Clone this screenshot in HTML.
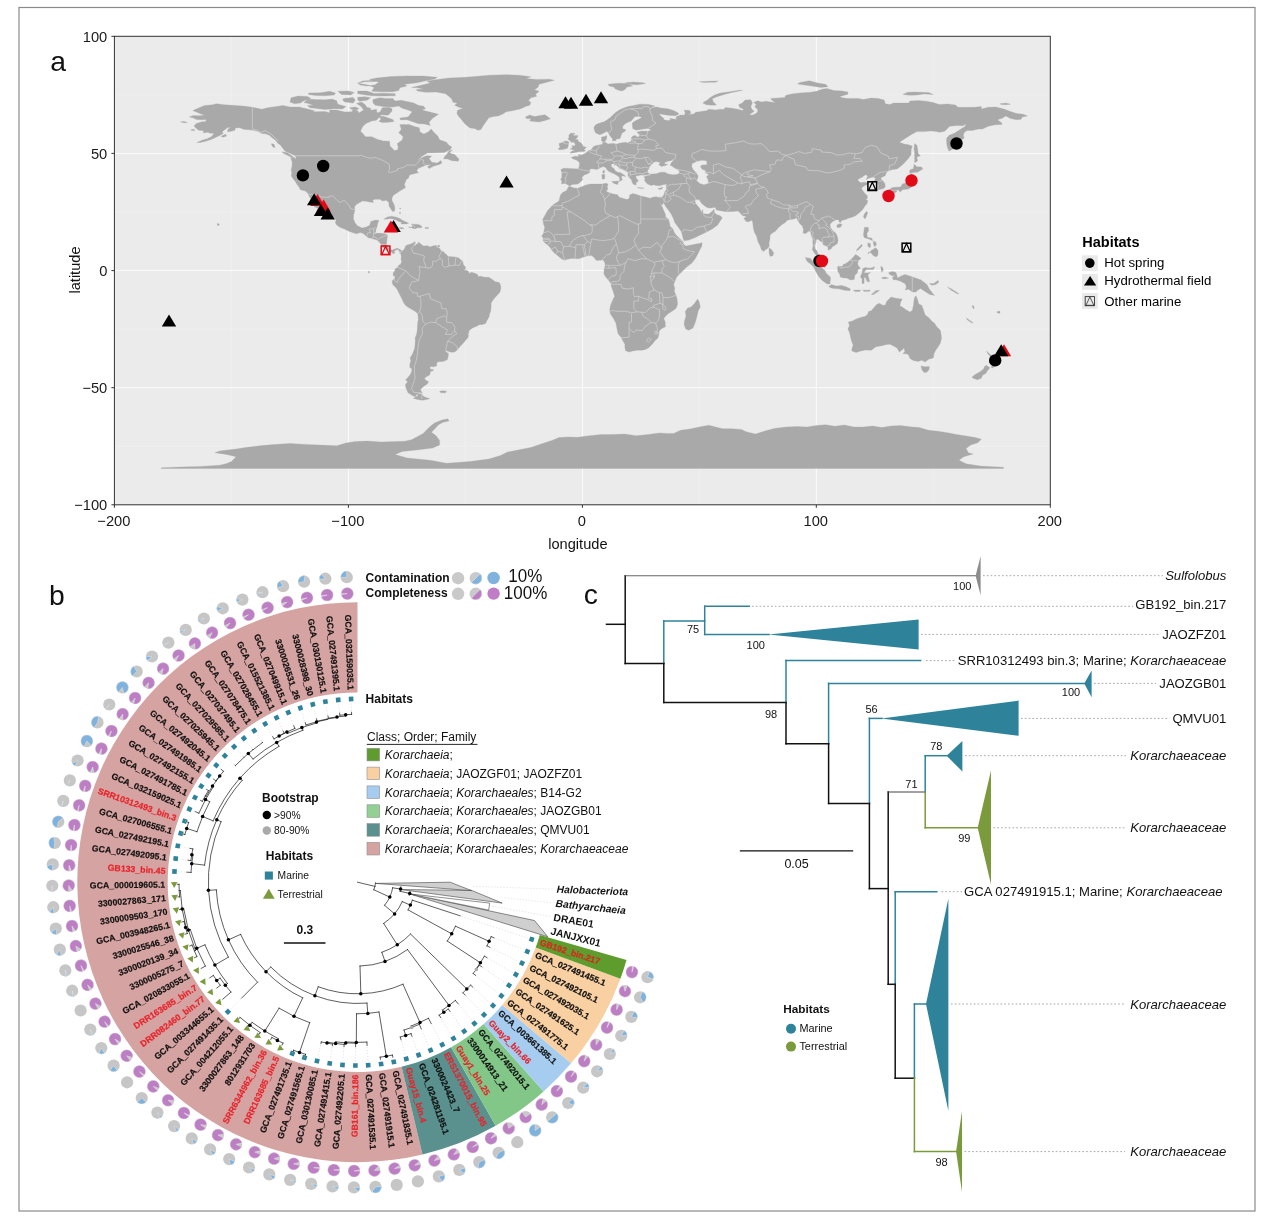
<!DOCTYPE html>
<html lang="en"><head><meta charset="utf-8"><title>Figure</title>
<style>html,body{margin:0;padding:0;background:#fff}svg{display:block}text{white-space:pre}</style></head>
<body>
<svg width="1269" height="1225" viewBox="0 0 1269 1225" font-family='"Liberation Sans", Arial, Helvetica, sans-serif'>
<rect x="0" y="0" width="1269" height="1225" fill="#fff"/>
<rect x="19" y="7.5" width="1236" height="1203.5" fill="none" stroke="#8a8a8a" stroke-width="1.2"/>
<g id="panelA">
<rect x="114.4" y="36.3" width="935.9" height="468.5" fill="#ebebeb"/>
<line x1="231.4" y1="36.3" x2="231.4" y2="504.8" stroke="#f3f3f3" stroke-width="0.5"/>
<line x1="465.4" y1="36.3" x2="465.4" y2="504.8" stroke="#f3f3f3" stroke-width="0.5"/>
<line x1="699.3" y1="36.3" x2="699.3" y2="504.8" stroke="#f3f3f3" stroke-width="0.5"/>
<line x1="933.3" y1="36.3" x2="933.3" y2="504.8" stroke="#f3f3f3" stroke-width="0.5"/>
<line x1="114.4" y1="446.2" x2="1050.3" y2="446.2" stroke="#f3f3f3" stroke-width="0.5"/>
<line x1="114.4" y1="329.1" x2="1050.3" y2="329.1" stroke="#f3f3f3" stroke-width="0.5"/>
<line x1="114.4" y1="212.0" x2="1050.3" y2="212.0" stroke="#f3f3f3" stroke-width="0.5"/>
<line x1="114.4" y1="94.9" x2="1050.3" y2="94.9" stroke="#f3f3f3" stroke-width="0.5"/>
<line x1="348.4" y1="36.3" x2="348.4" y2="504.8" stroke="#ffffff" stroke-width="0.85"/>
<line x1="582.4" y1="36.3" x2="582.4" y2="504.8" stroke="#ffffff" stroke-width="0.85"/>
<line x1="816.3" y1="36.3" x2="816.3" y2="504.8" stroke="#ffffff" stroke-width="0.85"/>
<line x1="114.4" y1="387.7" x2="1050.3" y2="387.7" stroke="#ffffff" stroke-width="0.85"/>
<line x1="114.4" y1="270.6" x2="1050.3" y2="270.6" stroke="#ffffff" stroke-width="0.85"/>
<line x1="114.4" y1="153.4" x2="1050.3" y2="153.4" stroke="#ffffff" stroke-width="0.85"/>
<path d="M189.3,116.9 193.2,115.5 199.1,115.7 204.5,115.2 199.8,113.6 192.8,110.6 199.8,107.5 204.5,105.6 212.7,104.7 216.2,103.8 224.4,104.7 236.1,105.6 245.4,106.3 252.4,107.3 261.8,109.2 267.7,107.7 278.2,106.3 282.9,105.4 289.9,107.0 299.2,107.0 308.6,109.2 314.4,110.8 313.3,111.7 325.0,111.5 329.7,112.7 329.7,109.9 336.7,110.1 344.9,112.0 351.9,111.7 353.1,109.6 357.7,110.8 358.9,112.9 363.6,109.9 361.2,106.6 356.6,103.5 361.2,101.9 364.8,104.2 367.1,107.5 370.6,108.0 370.6,110.3 376.5,109.2 376.9,112.7 380.0,112.0 382.3,107.7 389.3,107.3 392.1,108.7 391.9,111.3 388.2,115.2 381.6,114.8 378.8,117.6 376.5,120.2 371.8,120.9 365.9,123.4 362.4,127.0 360.5,131.2 362.4,133.0 365.5,136.8 371.8,136.8 377.6,139.4 383.5,141.0 389.6,141.2 390.0,145.9 392.4,148.3 394.2,150.4 397.5,149.9 398.2,147.3 397.3,143.6 402.2,140.1 403.1,136.6 398.7,132.8 401.3,129.3 399.8,124.6 409.2,124.6 414.4,126.5 419.3,127.7 420.0,131.9 423.9,134.0 428.2,131.9 431.2,129.1 433.8,132.3 437.8,136.1 439.6,139.8 446.6,142.2 448.3,144.8 451.8,147.1 450.2,149.7 444.3,152.5 437.3,152.7 427.2,153.0 422.1,156.2 417.4,160.0 415.8,160.9 420.2,158.6 426.3,155.8 431.7,156.0 429.1,158.6 430.7,160.7 431.9,162.3 437.3,163.0 440.8,160.5 442.0,163.0 438.9,164.7 433.8,166.1 429.1,168.4 427.5,166.8 430.7,164.4 426.1,164.9 422.1,166.8 418.1,168.4 416.7,170.8 418.6,172.6 415.1,173.6 410.1,174.7 409.0,175.9 408.7,178.0 406.4,179.4 404.8,183.4 404.3,184.3 405.5,187.6 402.7,189.3 399.8,191.1 396.8,193.0 393.1,195.6 391.9,198.4 392.1,200.7 394.0,204.5 394.9,207.8 394.5,211.3 392.6,211.5 391.0,209.2 388.9,205.7 388.9,202.6 386.3,200.3 382.5,201.0 380.0,199.3 375.3,199.3 372.7,200.0 373.4,202.4 369.4,201.9 365.9,201.2 362.4,201.0 359.8,202.4 355.9,204.7 354.5,207.3 354.9,210.1 353.5,215.5 353.5,219.0 354.9,222.5 357.3,225.8 360.1,227.0 361.9,227.9 366.4,227.0 369.7,225.3 370.8,221.4 375.8,220.0 379.0,220.4 377.6,223.7 376.9,227.4 375.8,229.3 375.8,231.9 374.3,233.3 377.2,233.3 381.1,233.3 385.8,234.0 387.7,235.4 387.0,238.9 386.7,242.4 386.3,244.8 387.9,247.1 390.0,249.2 392.4,249.9 395.2,248.8 397.5,248.3 400.1,249.5 401.5,250.4 401.3,252.0 399.1,251.6 398.9,249.7 396.3,249.7 394.2,251.3 394.9,253.0 393.3,253.7 391.4,252.3 388.6,251.3 386.7,250.4 384.2,247.8 381.8,247.1 381.6,244.8 379.5,242.4 377.4,240.3 375.3,239.6 371.8,238.5 368.3,237.8 366.4,236.3 362.9,233.3 360.1,232.6 356.6,233.8 353.1,232.8 348.8,231.2 344.4,228.9 340.2,227.4 336.7,224.9 335.3,222.8 336.0,220.2 334.3,217.4 330.8,213.6 327.8,211.1 326.4,208.2 323.8,206.1 321.5,204.0 318.7,201.0 317.7,197.7 314.2,196.3 313.7,198.9 316.6,202.6 318.4,205.4 320.8,208.5 322.9,212.5 325.4,214.8 326.1,216.4 324.3,216.4 321.2,213.4 319.6,210.8 317.5,208.2 314.0,206.6 315.2,204.0 312.6,201.4 310.9,198.9 309.1,196.1 307.9,193.2 305.3,191.1 300.4,189.7 299.2,187.2 296.9,184.3 295.5,181.8 292.7,178.3 291.3,175.9 291.8,172.4 291.1,170.1 292.0,166.3 292.2,162.1 290.6,157.4 294.6,157.6 295.7,159.5 296.0,156.9 294.3,155.3 290.3,153.4 285.2,151.3 283.1,148.7 280.5,145.2 277.5,143.1 275.8,140.5 272.8,138.2 269.3,135.2 265.3,133.7 261.8,133.5 258.3,131.6 254.8,130.5 248.9,129.8 244.3,129.5 239.6,127.7 235.4,128.1 234.9,130.2 230.2,131.6 227.2,131.6 228.3,128.8 231.4,127.2 227.4,127.7 224.4,130.0 222.0,131.9 223.4,133.3 219.7,135.6 215.0,137.7 211.0,139.6 205.7,141.2 200.3,142.4 196.8,142.6 202.1,140.3 207.3,138.7 211.7,136.6 214.1,133.3 210.8,133.3 207.1,132.3 203.3,133.0 203.8,130.7 198.6,130.2 195.8,127.9 194.0,125.8 196.3,123.4 202.1,121.8 206.1,121.6 205.7,119.5 201.4,119.7 196.3,119.5 192.8,117.8ZM401.5,250.4 402.7,250.9 404.5,248.8 405.7,245.7 407.8,244.8 410.8,244.1 413.4,242.7 415.1,241.5 415.3,243.4 414.1,245.0 415.1,245.7 416.2,244.3 418.1,243.6 418.6,242.0 420.2,243.6 422.5,245.3 423.7,246.0 427.5,245.7 430.3,246.9 432.1,246.0 435.4,245.5 437.3,245.7 435.9,246.9 438.2,247.6 440.1,248.8 440.6,250.6 443.1,251.6 445.5,253.7 447.8,256.0 449.0,256.5 451.8,256.7 455.5,257.0 458.3,257.7 460.9,259.8 462.6,261.2 463.5,264.9 465.4,266.8 465.4,268.9 463.7,270.3 466.5,270.3 468.2,271.3 469.3,273.4 471.2,272.2 474.3,273.1 477.5,274.5 478.2,276.6 480.8,276.2 484.5,277.3 488.8,277.3 492.3,279.5 495.3,281.8 499.3,282.5 500.5,285.1 500.9,288.1 500.0,292.1 497.4,295.1 495.1,297.5 492.7,300.5 491.1,302.9 491.1,306.9 490.6,311.5 489.5,313.9 489.0,316.9 486.7,320.9 485.7,323.3 482.9,324.4 479.4,324.7 476.1,326.5 472.6,327.9 469.3,330.3 468.4,333.8 468.2,337.3 465.4,340.4 463.0,343.6 460.2,346.2 457.4,349.7 454.8,352.1 451.3,352.3 447.1,351.1 445.7,350.2 445.7,351.8 448.5,353.5 448.3,355.8 447.3,359.8 443.1,361.4 437.8,361.7 436.6,363.8 436.6,366.1 433.1,366.8 430.0,366.4 430.3,369.2 433.1,369.4 433.3,370.8 430.7,371.3 429.6,375.0 426.8,376.4 424.4,378.3 426.1,380.4 428.4,381.4 427.5,383.7 424.2,386.0 421.8,387.9 420.4,389.8 421.4,391.4 422.3,393.1 419.7,393.1 416.7,394.2 415.8,396.6 413.0,395.9 410.4,394.2 408.0,392.8 406.9,390.0 405.7,387.2 405.5,384.2 407.8,381.8 405.5,379.9 407.6,377.8 410.1,374.8 411.5,372.0 412.0,368.9 409.7,367.3 409.9,364.0 410.8,360.7 410.1,357.7 412.0,354.9 413.4,351.8 414.6,348.6 415.1,344.3 415.3,340.8 415.1,338.0 416.5,334.5 417.2,330.8 417.4,326.8 417.6,323.3 418.3,319.7 418.1,316.2 417.6,313.4 415.3,311.5 412.3,309.7 408.5,307.6 405.7,305.5 403.8,303.1 402.2,299.6 400.6,296.3 398.9,293.0 397.5,290.0 395.6,287.2 393.3,285.3 392.4,283.4 392.1,280.9 394.2,278.7 395.4,276.6 393.3,275.9 393.1,273.1 394.7,271.0 395.2,268.7 397.7,267.5 398.4,265.4 400.3,264.5 401.7,261.9 401.0,259.3 401.3,257.0 401.0,254.4 399.4,253.0 401.3,252.0ZM421.8,393.8 417.4,394.2 417.9,396.1 415.5,397.0 413.4,398.2 417.4,399.4 422.1,400.3 426.8,399.6 429.8,398.7 426.8,397.7 423.7,396.6 422.5,395.2ZM411.5,87.4 422.1,85.0 430.3,82.9 426.8,81.0 437.3,79.4 449.0,78.0 465.4,77.3 474.7,76.6 488.8,75.2 505.1,74.7 519.2,75.2 530.9,76.8 526.2,78.5 536.7,79.4 549.6,79.2 554.3,80.3 544.9,82.7 539.1,84.3 537.9,87.4 534.4,89.7 539.1,91.3 535.6,94.2 536.7,96.3 530.9,97.7 528.5,100.5 530.9,102.4 529.7,105.2 526.2,106.3 520.3,108.9 513.3,110.6 506.3,111.7 502.8,114.1 498.1,115.9 493.4,116.6 488.8,117.8 486.9,120.4 484.8,123.4 482.7,126.5 481.0,129.5 478.0,130.2 474.7,128.6 470.0,127.9 466.5,125.3 463.7,122.5 461.6,119.7 458.8,116.6 456.9,113.6 457.6,110.3 463.0,108.2 459.5,107.5 454.6,105.2 457.2,103.3 452.7,102.1 452.0,99.3 449.0,96.5 445.5,93.7 436.1,92.1 425.6,92.3 417.4,91.1 416.2,89.5 423.2,89.0 417.4,87.8ZM438.5,114.3 432.6,118.3 429.1,122.3 430.3,125.5 424.4,123.9 418.6,123.7 412.7,121.8 406.9,119.7 400.6,119.9 399.8,118.1 408.0,116.9 410.4,114.1 412.3,111.7 408.0,110.1 402.2,108.2 398.7,106.1 392.8,107.0 384.6,106.8 380.0,106.1 375.3,105.2 372.9,102.8 372.9,99.5 380.0,97.7 385.8,98.4 392.8,98.4 395.2,101.0 401.0,100.3 406.9,101.4 413.9,103.1 418.6,105.4 423.2,106.1 425.6,108.4 422.1,110.1 426.8,111.3 433.8,113.1ZM308.6,99.1 315.6,99.5 325.0,99.8 332.0,99.1 336.7,100.7 337.8,104.2 346.0,106.6 342.5,108.9 334.3,108.7 325.0,109.6 316.8,108.4 309.8,107.7 307.4,105.4 313.3,105.2 307.4,103.3 303.9,102.6 306.3,100.5ZM289.9,101.9 294.6,103.8 300.4,103.1 303.9,100.7 310.9,98.4 307.4,96.5 298.1,96.0 291.1,97.7ZM371.8,91.3 381.1,91.8 392.8,91.8 398.7,90.6 399.8,87.8 406.9,86.0 404.5,84.3 417.4,82.7 425.6,80.8 434.9,78.9 437.3,77.3 423.2,76.1 406.9,75.9 390.5,76.6 376.5,78.0 369.4,79.4 376.5,81.5 364.8,81.7 357.7,83.2 367.1,84.8 374.1,87.4 372.9,89.5ZM357.7,91.1 367.1,91.1 374.1,93.5 383.5,93.2 395.2,93.7 395.2,95.8 383.5,96.0 371.8,95.8 365.9,94.9 357.7,93.7ZM357.7,83.2 362.4,81.0 371.8,80.3 378.8,82.0 375.3,84.8 367.1,86.0 360.1,85.0ZM308.6,93.0 320.3,92.8 329.7,91.3 335.5,93.0 334.3,94.9 325.0,95.8 315.6,95.6 308.6,94.4ZM357.7,97.2 364.8,96.7 370.6,97.7 367.1,100.3 358.9,101.2 357.7,99.5ZM343.7,98.4 353.1,97.4 355.4,100.0 353.1,103.1 344.9,101.9 342.5,100.0ZM337.8,91.3 348.4,90.9 354.2,92.5 350.7,94.9 341.4,94.4ZM378.8,116.4 383.5,116.2 387.0,117.6 392.8,119.5 394.0,121.6 388.2,122.3 382.3,122.5 378.8,121.3 381.1,119.2ZM349.5,107.7 355.4,107.0 358.9,108.4 356.6,109.9 351.9,109.4ZM443.6,158.8 447.8,159.0 451.8,160.7 456.0,160.9 458.3,161.2 459.0,159.0 456.9,156.9 454.8,154.6 451.8,153.7 449.5,152.7 452.5,149.9 449.0,151.1 446.6,154.6 444.3,156.9ZM282.2,151.8 287.5,152.7 291.1,155.3 293.6,157.2 290.3,156.7 286.4,154.8 282.9,153.0ZM271.2,143.8 274.0,144.1 275.1,147.6 272.8,146.9ZM220.9,136.3 225.5,134.2 226.7,135.9 223.2,137.3ZM180.6,121.8 184.6,121.6 187.4,122.5 183.4,122.7ZM190.9,129.5 194.4,129.3 194.7,130.5 191.6,130.5ZM383.7,219.2 387.4,216.9 391.7,216.2 395.6,217.1 399.4,218.3 402.7,220.4 405.7,221.8 408.7,223.2 406.4,223.9 401.0,223.9 401.7,222.3 398.7,221.4 395.2,219.7 391.0,218.5 387.7,219.0ZM408.3,227.2 411.5,227.7 414.6,228.9 417.4,227.7 421.8,227.7 421.6,226.0 418.6,224.4 414.6,224.2 411.5,223.9 412.3,225.6 412.7,227.0 409.7,227.0ZM399.1,227.4 402.2,227.4 404.1,228.4 401.7,228.9 399.4,228.2ZM425.1,227.4 428.6,227.4 428.4,228.4 425.1,228.4ZM399.4,208.0 400.8,208.0 401.0,208.7 399.8,208.5ZM399.4,212.2 400.3,212.0 400.6,213.6 399.6,213.4ZM437.8,245.5 439.6,245.3 439.6,246.9 437.8,246.9ZM439.6,391.2 443.1,390.7 446.6,391.2 445.5,392.8 440.8,392.8ZM368.3,271.3 369.4,271.3 369.4,272.9 368.3,272.9ZM217.3,223.2 219.5,224.2 218.3,226.0 217.3,224.9ZM525.5,116.9 529.7,115.0 534.4,116.6 540.2,115.5 544.9,114.8 548.2,117.1 550.3,118.8 546.1,120.2 539.1,122.0 534.4,121.6 529.7,120.9 530.9,118.8 526.2,118.5ZM569.9,153.2 574.2,152.7 578.8,151.8 584.2,151.6 585.6,150.4 583.8,149.9 586.3,147.3 583.1,146.4 582.6,145.0 581.2,143.1 578.8,141.7 577.7,139.6 575.3,139.4 577.7,137.0 577.7,135.4 573.0,135.4 574.9,133.3 570.7,133.3 568.8,135.2 569.0,137.5 567.8,138.9 570.2,140.8 571.1,142.2 574.2,142.2 575.3,144.5 574.9,145.7 571.8,145.7 572.5,147.8 570.2,149.0 573.0,149.7 575.3,150.4 572.5,150.8 570.7,152.3ZM559.0,149.7 562.9,149.4 567.4,148.3 568.3,145.7 568.3,143.4 569.2,142.4 567.6,141.2 564.8,141.0 562.5,142.6 559.0,143.6 559.4,145.7 560.1,147.3 558.3,148.5ZM608.1,84.3 615.1,83.6 619.8,83.2 626.8,83.6 632.7,86.0 626.8,87.1 625.6,89.0 622.1,90.9 618.6,90.2 615.1,88.8 613.9,87.1 609.3,86.0ZM625.6,82.7 633.8,82.0 643.2,82.7 645.5,83.6 637.3,84.8 629.1,84.3ZM702.8,103.1 706.4,104.7 712.2,105.2 716.4,104.9 713.4,101.9 712.2,98.8 716.9,96.7 722.7,94.9 729.8,93.0 737.9,91.3 742.6,90.4 739.1,90.2 729.8,91.8 720.4,93.0 714.5,95.1 709.9,97.7 707.5,100.0 704.0,101.9ZM699.3,81.7 708.7,81.3 718.1,81.0 715.7,82.2 704.0,82.4ZM804.6,85.0 811.6,86.0 821.0,87.4 828.0,86.7 825.7,84.3 818.7,83.2 809.3,80.8 799.9,82.4 797.6,83.9ZM902.9,94.4 909.9,95.3 916.9,95.1 924.0,93.9 933.3,94.4 928.6,92.5 914.6,92.1 907.6,92.3ZM1000.0,103.8 1005.8,103.1 1010.5,104.2 1005.8,104.7 1001.2,104.5ZM560.6,179.9 561.8,176.9 561.8,172.6 560.8,169.6 563.6,168.2 569.5,168.4 574.2,168.7 578.1,168.9 579.3,166.3 579.5,162.8 577.2,160.5 572.3,158.6 571.4,157.2 575.3,156.2 578.6,156.5 578.4,154.4 581.6,155.1 585.9,153.0 588.2,150.8 591.0,150.1 592.2,148.3 593.6,146.4 596.4,145.5 599.2,145.0 602.5,144.3 602.7,142.2 601.5,140.3 601.5,137.0 604.6,136.6 606.9,135.4 606.7,138.2 606.2,139.8 605.0,141.0 605.7,142.6 608.1,144.1 611.1,143.4 614.6,143.6 615.8,144.3 620.5,143.1 625.2,142.2 628.0,143.1 629.1,141.9 631.5,141.0 631.5,137.5 632.9,135.9 635.2,135.4 637.3,137.0 639.2,136.6 639.4,134.0 637.3,133.0 637.3,131.9 642.0,130.9 647.9,131.2 651.4,130.0 647.9,128.6 643.2,129.1 636.2,130.2 632.7,128.6 632.4,125.5 632.2,123.0 635.0,121.1 639.7,118.8 641.8,117.6 639.7,116.4 635.0,116.4 632.7,119.2 631.0,121.1 625.9,123.2 622.8,126.0 622.6,128.6 625.9,129.8 624.7,131.6 621.7,133.3 621.0,135.9 619.8,138.7 616.5,139.1 615.6,140.8 612.5,140.8 612.3,138.4 610.0,135.9 608.6,133.0 606.9,131.2 603.4,133.3 599.9,134.7 595.7,133.0 594.3,130.0 594.0,127.0 595.9,124.6 599.9,123.0 604.6,121.6 607.6,119.5 610.9,116.9 613.5,114.3 616.3,112.0 619.3,110.1 623.3,108.2 628.0,106.6 633.8,105.4 639.7,104.2 644.4,104.2 649.0,104.5 654.9,106.1 651.4,107.3 657.2,107.0 660.7,108.0 667.8,108.7 673.6,110.6 678.3,113.1 678.3,114.8 674.8,115.7 667.8,115.2 661.9,114.3 659.1,114.1 660.7,115.9 663.8,118.3 663.8,119.7 667.8,120.6 670.8,119.9 669.4,118.3 673.6,119.0 676.6,119.2 675.9,116.9 680.6,115.0 684.1,115.2 685.3,113.1 684.1,110.1 690.0,110.6 690.7,113.6 687.6,114.8 693.5,114.1 695.8,112.2 706.4,110.8 708.7,109.2 715.7,109.9 720.4,109.2 723.9,109.6 725.1,107.5 732.1,108.2 739.1,109.4 742.2,110.6 743.8,109.2 739.8,107.5 738.6,104.7 742.6,102.8 745.0,100.0 750.8,99.8 752.4,103.1 750.8,106.6 752.0,109.4 754.3,111.3 749.6,114.5 752.0,115.2 755.5,113.8 757.8,111.7 757.4,108.9 754.8,107.0 756.2,104.2 753.6,102.4 757.8,100.7 761.3,102.1 766.0,101.2 770.7,101.9 775.4,102.4 771.9,100.3 770.7,98.4 778.9,97.9 784.7,97.4 785.9,95.3 792.9,93.7 802.3,92.8 810.5,92.3 816.3,91.3 822.2,89.2 826.9,88.5 830.4,89.5 833.9,90.6 842.1,90.9 847.9,92.1 847.9,94.2 839.7,96.5 842.1,97.7 847.9,98.4 858.4,98.4 863.1,99.5 871.3,98.1 878.3,98.4 884.2,100.0 885.3,103.8 890.0,104.5 893.5,103.1 900.6,103.1 908.7,103.1 909.9,101.0 918.1,100.5 926.3,101.2 933.3,102.6 939.2,104.5 947.4,104.0 955.5,104.9 957.9,107.3 966.1,107.3 974.3,107.3 981.3,106.6 981.3,108.9 988.3,107.3 995.3,107.0 1000.0,108.0 1004.7,109.2 1010.5,111.5 1016.4,113.4 1023.4,114.3 1027.4,115.9 1022.2,117.1 1021.1,119.2 1016.4,119.7 1010.5,118.5 1005.8,115.9 1002.3,118.3 998.8,119.2 997.7,119.9 1001.9,123.0 1001.9,124.4 995.3,124.8 988.3,126.3 982.4,129.1 978.9,129.1 971.9,130.5 967.2,130.5 964.4,132.3 963.3,135.2 964.2,138.2 961.4,139.4 961.9,142.2 957.4,144.1 956.2,146.9 952.0,149.4 949.0,151.1 947.4,147.6 946.6,142.9 946.6,138.2 949.2,135.2 954.4,133.3 960.2,129.5 964.9,126.5 966.1,124.1 962.6,125.8 957.4,125.5 949.7,126.3 945.0,130.9 943.8,131.6 939.2,132.3 936.4,131.4 931.0,130.9 924.0,131.6 916.9,131.6 911.1,134.7 905.2,138.4 899.4,142.2 904.1,144.1 907.6,144.5 912.3,145.9 911.1,149.9 911.1,154.6 908.7,158.1 905.7,161.6 901.7,165.6 897.0,168.9 892.4,169.4 888.9,170.8 887.2,171.7 885.8,173.8 885.3,175.7 881.8,177.3 880.7,178.7 882.5,180.4 884.9,183.4 885.3,186.7 883.7,188.6 880.7,189.3 877.9,189.7 878.3,186.7 878.3,183.9 876.7,182.0 874.4,181.1 875.5,178.3 873.2,177.1 868.5,178.3 866.2,179.7 867.8,175.9 865.5,174.7 862.0,177.3 858.0,179.2 858.0,180.8 860.8,182.7 864.3,182.2 869.0,182.9 867.8,184.3 864.3,185.8 861.5,187.9 862.0,189.5 864.3,192.8 867.3,195.8 867.3,198.4 865.9,199.6 867.8,200.7 866.9,203.8 865.0,206.1 862.7,209.6 860.8,211.5 858.4,213.4 855.6,215.7 852.6,217.1 849.1,218.1 845.6,219.5 841.6,220.4 840.4,222.8 839.0,221.8 839.0,220.0 836.2,219.7 832.7,221.4 830.1,224.2 830.4,227.2 832.7,230.7 835.7,233.1 837.4,236.6 838.1,240.6 837.4,243.6 833.9,246.0 832.0,247.1 831.5,248.5 828.0,250.2 828.0,247.1 826.2,246.0 823.3,244.8 822.6,242.4 819.8,240.8 818.2,239.2 816.3,239.4 816.1,242.4 814.7,246.0 815.2,248.8 817.0,251.1 818.2,254.2 820.5,255.3 822.4,256.5 824.3,260.0 824.5,263.5 825.7,267.0 824.5,267.5 822.2,265.9 819.4,263.8 817.5,261.2 817.0,257.7 815.9,254.9 813.5,251.8 812.3,249.5 813.0,246.0 812.8,242.4 812.8,238.9 811.2,235.4 810.7,231.9 808.8,231.0 805.8,233.5 803.0,233.1 803.5,229.6 802.3,226.0 799.9,223.7 797.6,220.2 796.4,217.8 794.1,219.0 790.6,219.5 787.1,220.2 785.4,222.5 782.4,224.2 778.9,227.2 775.4,231.2 771.9,233.3 770.0,235.4 770.0,238.9 769.1,242.4 769.1,246.4 767.2,248.8 765.3,249.7 763.7,251.6 761.3,249.5 760.2,246.0 757.8,241.3 756.7,236.6 754.3,231.9 753.2,227.2 752.7,222.5 752.0,220.2 748.5,221.8 746.1,221.4 743.8,218.3 746.8,216.7 742.2,215.5 739.8,212.5 737.9,211.1 733.3,211.5 726.2,211.8 721.6,211.1 716.4,210.1 715.2,207.3 711.0,208.0 707.5,207.8 704.0,205.4 701.2,202.9 699.3,199.8 696.5,199.6 694.7,200.7 695.8,203.8 698.2,206.6 699.8,208.5 701.2,212.0 702.8,209.6 702.8,213.2 705.2,213.9 708.7,214.1 712.2,211.3 714.1,209.2 714.5,212.5 716.9,214.8 719.9,215.5 722.3,217.8 719.9,221.4 717.6,224.9 715.7,226.5 712.2,228.9 707.5,231.4 704.5,233.1 699.3,235.4 694.7,237.8 688.8,240.1 684.1,240.8 683.0,238.2 682.3,234.7 681.1,231.2 678.3,227.2 674.8,222.5 673.6,219.0 671.3,214.3 668.9,210.8 665.4,206.1 663.8,203.1 664.2,201.4 662.4,205.0 660.7,204.3 658.6,200.5 657.9,197.5 661.9,197.2 663.8,194.9 664.7,192.1 666.6,189.0 666.1,185.8 667.0,184.3 663.8,184.6 659.6,185.8 656.1,185.5 653.7,184.8 651.4,185.5 647.9,184.3 646.2,182.7 644.4,180.4 645.1,178.3 643.7,176.9 646.7,175.7 650.7,175.0 650.7,174.0 656.1,173.8 660.7,172.2 664.9,172.2 667.8,173.8 672.4,174.7 677.1,174.5 679.4,173.1 679.4,170.8 675.9,168.7 672.4,166.5 670.1,165.1 671.7,162.3 674.1,160.0 670.1,160.7 665.4,162.1 664.2,163.7 667.8,164.4 665.4,165.6 661.4,166.5 658.6,164.4 660.5,162.8 656.8,161.6 653.9,162.1 651.8,164.4 649.7,166.3 649.0,168.7 647.4,170.8 648.1,173.1 650.2,174.0 646.7,174.7 643.7,175.2 640.8,175.0 638.0,175.7 635.7,175.9 636.2,178.0 638.5,181.1 636.2,182.2 636.2,185.0 634.5,184.8 633.1,184.1 632.0,182.0 631.5,179.7 629.1,177.6 628.0,175.7 628.0,172.6 626.1,171.2 623.3,169.8 619.8,168.4 617.4,166.1 615.8,164.7 614.6,165.4 614.2,163.5 611.1,164.2 611.4,166.8 613.9,168.4 615.6,171.2 618.6,172.4 620.3,172.6 624.5,175.2 625.6,176.6 622.1,175.7 621.2,177.8 622.6,179.2 621.0,180.8 619.1,181.5 619.8,179.7 619.1,176.9 617.0,175.4 614.2,173.8 611.1,172.6 608.1,171.0 606.4,168.7 605.3,167.2 602.9,166.5 599.9,167.9 596.9,169.6 594.0,168.9 591.7,168.7 589.6,169.6 589.8,172.4 587.5,173.8 584.2,175.0 581.9,177.8 582.8,179.7 580.9,181.5 578.1,184.1 572.1,184.6 569.7,186.0 567.6,184.8 565.3,183.4 561.5,183.9 561.8,180.8ZM568.5,186.7 569.9,186.5 574.2,187.9 577.7,188.3 582.4,186.5 585.9,185.0 590.5,184.1 596.4,184.1 602.2,184.1 605.7,183.2 608.1,184.1 607.2,186.7 607.9,189.3 606.0,191.1 608.6,192.5 612.3,193.7 617.4,194.7 619.3,197.2 623.3,198.4 627.3,199.6 629.4,197.9 629.6,194.9 632.7,193.5 636.6,194.4 640.8,196.1 645.5,197.0 650.2,198.2 653.7,197.0 656.8,196.8 657.9,197.5 658.6,200.5 660.0,203.6 662.4,207.3 663.8,210.8 665.4,214.3 665.6,217.1 668.5,219.2 669.4,222.5 670.1,226.5 672.7,228.4 674.5,233.1 676.6,235.6 679.9,238.7 682.5,241.0 683.7,242.9 683.0,243.8 685.8,246.0 690.0,245.3 694.7,244.3 699.3,243.4 702.1,242.7 701.9,246.0 700.0,249.5 697.7,254.2 695.1,258.8 691.9,263.1 687.6,266.3 684.1,269.4 680.6,272.9 678.3,275.2 676.4,277.6 675.0,281.1 673.6,284.6 674.8,288.1 674.3,291.6 675.9,294.9 677.1,299.1 677.6,304.5 675.9,308.5 672.4,311.1 668.5,313.4 665.4,316.2 663.8,318.6 665.2,322.1 665.4,326.8 661.9,328.6 659.1,331.0 659.1,333.8 657.9,338.0 654.9,340.8 652.5,343.9 649.0,347.4 645.5,349.5 642.0,350.2 637.3,350.2 632.7,351.1 629.1,352.1 625.6,350.7 624.9,347.4 624.9,344.3 622.8,340.8 621.0,337.3 618.1,333.8 617.0,329.1 616.0,323.3 613.5,318.6 610.4,313.9 609.7,310.4 610.4,305.7 612.3,301.0 614.6,296.3 613.2,291.6 611.1,285.8 610.9,283.4 608.8,280.4 605.7,277.1 603.9,274.1 604.1,269.8 605.0,266.3 605.0,263.1 603.2,260.0 599.2,260.2 596.4,260.5 594.0,257.4 591.7,255.6 587.5,255.8 583.5,257.0 578.8,258.8 575.3,258.6 571.4,258.4 567.1,259.3 564.6,260.2 561.3,258.8 557.3,255.3 554.3,253.0 551.5,249.7 550.1,247.4 547.7,245.0 544.9,242.9 543.0,240.6 543.0,237.8 541.6,235.9 543.5,233.5 544.0,230.7 544.7,227.2 543.7,224.6 543.0,221.4 542.6,219.5 544.2,216.7 546.1,213.2 548.0,210.1 550.8,207.3 552.4,205.2 555.9,203.1 559.0,201.0 559.7,197.9 560.6,194.7 562.9,192.3 566.4,190.7 567.8,188.1ZM697.7,298.9 699.3,302.2 700.3,306.9 698.2,311.1 697.0,316.2 695.4,322.1 693.0,327.9 688.8,330.3 685.8,329.1 684.1,324.4 684.6,320.4 686.0,316.2 685.3,311.5 687.6,308.0 691.1,306.9 694.7,303.3 696.5,300.5ZM769.1,247.8 771.4,249.5 773.7,253.0 773.0,255.6 770.2,256.5 769.1,253.0ZM611.6,181.5 618.6,181.1 617.7,184.6 613.9,183.4ZM601.8,174.5 604.8,174.5 604.8,178.7 602.2,179.2ZM602.7,171.0 604.6,170.1 604.3,173.3 602.9,173.1ZM637.6,187.4 643.9,187.9 643.2,188.6 637.8,188.1ZM657.9,188.6 663.1,187.2 661.4,189.3 658.6,189.3ZM914.6,143.4 916.9,145.2 917.6,148.7 918.1,153.4 920.4,155.8 916.9,156.9 917.6,160.9 914.6,162.8 914.6,158.1 914.6,153.4 914.1,148.7ZM909.9,173.3 912.7,172.6 917.4,172.2 922.8,169.1 921.6,167.0 916.9,166.8 914.1,164.2 913.4,168.7 910.6,169.4 909.4,171.5ZM912.0,173.6 914.4,176.9 913.9,180.4 912.0,183.9 911.6,186.9 909.4,188.6 907.1,189.3 902.9,189.5 900.1,192.1 898.2,189.7 893.5,190.2 888.9,190.9 888.6,190.0 892.4,187.6 895.9,187.2 900.6,186.9 902.4,183.9 906.4,182.7 908.7,180.4 909.9,176.9 910.4,174.5ZM885.8,192.5 888.9,191.1 890.7,193.7 889.6,197.2 887.2,197.5 887.0,194.4ZM892.4,190.9 896.6,190.2 896.8,191.8 893.5,193.7 891.9,192.5ZM866.6,211.5 867.8,212.5 866.2,216.7 865.0,219.0 863.4,216.7 864.8,213.2ZM836.7,225.3 839.7,223.7 842.1,224.4 840.4,227.2 837.4,227.7ZM864.5,227.2 868.3,227.4 868.5,230.7 866.9,233.5 867.3,237.3 872.0,238.2 872.5,240.8 870.1,239.4 867.3,238.5 864.5,237.8 863.4,235.4 863.8,231.9ZM867.8,254.2 871.3,250.4 875.8,247.8 878.1,250.6 877.9,255.3 876.0,257.0 872.9,255.3 871.3,253.0 868.5,252.0ZM867.8,242.9 870.4,243.6 870.6,247.1 869.2,247.6 867.8,246.0ZM873.2,241.3 875.5,241.7 876.5,244.5 874.8,246.7 873.6,244.8ZM856.6,250.9 859.6,248.8 862.4,245.7 861.5,244.3 859.6,246.4 856.8,249.5ZM837.4,267.0 838.8,265.9 842.1,266.8 843.0,264.7 846.7,263.1 850.5,259.8 852.8,257.7 855.6,254.4 857.7,255.8 861.2,258.4 858.4,260.5 857.7,263.5 858.4,265.9 860.5,268.2 858.0,269.4 857.3,272.9 854.9,275.2 854.2,279.5 850.5,279.9 846.7,278.0 843.7,278.0 840.2,277.1 839.7,274.1 837.9,271.7ZM805.3,257.4 810.5,258.4 812.3,260.7 816.3,264.0 818.7,265.4 822.2,268.2 825.0,270.6 826.4,273.6 830.4,277.1 830.4,279.9 829.9,284.1 827.1,283.9 822.2,280.4 818.7,276.4 815.9,271.7 813.5,267.0 810.5,264.0 807.0,261.2ZM828.7,286.5 831.5,284.6 836.2,286.0 841.6,285.5 846.0,286.7 850.3,288.8 850.0,290.7 844.4,290.2 838.6,288.8 833.9,288.6 830.4,287.7ZM862.7,268.7 865.0,267.5 870.1,268.2 874.8,266.8 873.2,269.6 866.6,269.4 863.6,272.4 866.6,272.9 870.6,272.4 867.8,274.8 869.0,278.7 869.7,281.8 867.1,281.6 865.5,277.6 864.1,277.6 864.1,283.4 862.0,283.4 862.0,278.7 860.3,277.1 862.0,272.9ZM888.9,272.4 892.4,271.5 895.9,272.4 897.7,278.0 901.7,275.7 905.2,274.5 911.1,276.4 916.9,278.5 920.7,279.7 924.0,282.3 927.0,284.6 928.2,286.9 929.8,289.8 933.3,294.0 934.5,295.4 929.8,294.4 925.1,291.4 920.4,288.6 917.4,290.5 915.8,292.1 912.3,291.9 908.7,289.3 905.2,290.0 906.4,286.9 905.2,283.7 900.6,281.3 895.9,279.7 893.5,279.9 892.4,277.3 895.4,275.7 891.9,275.7 888.9,273.8ZM929.3,283.7 933.8,283.4 938.0,280.4 938.7,282.3 935.7,284.6 932.1,285.3ZM871.3,294.7 875.3,290.7 879.5,290.2 878.3,291.6 873.6,294.4ZM862.7,290.2 866.6,290.2 870.1,290.0 869.7,291.2 864.3,291.4ZM853.3,290.2 857.3,290.0 860.8,290.2 859.6,291.4 854.9,291.6ZM880.7,266.3 882.3,267.0 883.5,269.8 881.8,272.2 881.1,269.4ZM881.8,277.6 885.3,277.1 888.4,278.3 885.3,278.7 882.3,278.7ZM848.4,322.1 849.5,325.6 847.9,329.1 849.5,332.6 850.3,336.1 851.4,340.8 853.1,345.0 851.9,349.0 851.9,351.1 856.1,352.5 860.8,350.9 865.5,350.0 871.3,350.2 876.0,346.7 881.8,345.7 886.5,344.6 890.0,344.3 893.5,346.0 897.0,347.9 899.4,352.1 901.7,350.2 904.1,347.9 904.8,351.4 902.9,353.7 906.4,353.7 908.7,354.9 909.9,358.4 913.4,360.5 918.1,361.4 921.6,360.3 925.1,361.9 928.6,359.3 933.3,357.9 934.0,353.7 935.7,350.2 938.0,347.1 940.3,343.2 941.5,338.5 941.0,333.8 940.3,330.3 936.8,326.8 934.5,323.3 931.7,320.9 928.6,317.4 925.1,315.1 924.0,311.5 922.8,308.0 921.6,305.2 918.8,304.0 917.6,299.8 916.0,295.8 914.6,297.5 913.9,301.0 913.4,305.7 912.3,310.4 909.9,312.0 906.4,309.9 902.9,307.6 899.9,305.7 900.6,302.2 902.2,299.1 899.4,298.7 894.7,298.0 891.2,297.0 888.9,299.1 886.5,301.7 885.3,305.2 882.5,305.2 879.5,303.3 876.7,304.5 873.6,308.0 871.3,310.8 868.5,311.5 867.8,313.9 865.5,316.2 860.8,317.4 856.1,319.0 852.6,320.9ZM920.9,366.1 925.1,366.8 929.3,366.4 929.1,369.4 926.8,372.2 924.0,372.4 922.1,370.1ZM986.4,351.1 989.5,353.7 991.8,356.1 994.1,358.6 998.8,358.6 999.5,360.7 996.5,363.1 996.0,365.4 992.5,368.0 991.1,367.3 992.3,364.2 989.0,362.6 991.1,359.6 990.6,356.8 987.8,353.7ZM986.7,365.4 989.9,367.8 987.1,371.3 986.0,373.2 982.4,375.5 981.3,378.3 977.3,379.7 973.1,378.3 971.9,377.1 975.9,374.1 980.1,371.7 983.6,368.9 984.8,366.1ZM966.1,317.9 969.6,320.2 973.1,322.8 971.9,323.0 967.2,319.7ZM997.2,311.5 1000.0,311.3 1000.0,313.2 997.2,312.9ZM947.4,286.9 952.0,289.3 956.7,292.3 959.0,294.0 956.7,293.5 950.9,290.0ZM971.9,305.7 973.6,305.7 974.3,308.5 973.1,308.5ZM161.2,467.8 179.9,467.1 201.0,466.4 219.7,465.2 226.7,463.6 231.4,461.5 236.1,456.8 226.7,454.4 215.0,452.8 219.7,450.9 236.1,449.0 245.4,447.6 259.5,445.8 273.5,444.6 289.9,443.4 306.3,444.4 320.3,445.1 336.7,445.8 346.0,443.0 355.4,441.6 367.1,441.1 381.1,442.0 395.2,441.6 404.5,441.3 411.5,439.7 416.2,437.3 423.2,433.4 426.8,429.8 430.3,426.3 434.9,422.8 442.0,420.0 447.8,418.8 449.0,420.9 443.1,422.3 438.5,424.7 434.9,428.7 431.4,432.2 436.1,435.7 439.6,440.4 439.6,445.1 432.6,448.1 418.6,449.8 402.2,451.4 395.2,454.4 406.9,457.9 430.3,460.3 446.6,463.3 470.0,461.5 488.8,459.1 500.5,455.6 507.5,452.1 519.2,449.8 530.9,447.4 542.6,443.4 551.9,440.4 559.0,437.6 568.3,436.9 577.7,437.3 589.4,435.7 601.1,434.5 612.8,434.5 624.5,434.1 636.2,435.7 647.9,434.5 659.6,432.9 666.6,433.4 673.6,433.4 680.6,430.3 690.0,428.9 699.3,427.0 708.7,425.2 715.7,427.0 722.7,428.7 732.1,428.7 741.5,429.4 746.1,431.7 755.5,434.1 764.9,431.0 774.2,428.4 785.9,427.0 797.6,426.6 807.0,427.0 816.3,425.6 825.7,424.7 835.0,426.3 844.4,424.9 853.8,427.0 863.1,427.0 872.5,426.1 881.8,427.5 891.2,425.9 900.6,425.6 909.9,426.8 919.3,427.5 928.6,430.3 938.0,431.2 947.4,432.7 956.7,434.5 966.1,435.9 975.4,437.6 981.3,439.2 977.8,442.7 970.7,445.1 966.1,448.6 968.4,452.8 973.1,454.0 963.7,456.8 959.0,460.3 966.1,463.8 980.1,466.1 1003.5,467.3 1003.5,468.5 161.2,468.5Z" fill="#a9a9a9" stroke="#a9a9a9" stroke-width="0.3" stroke-linejoin="round"/>
<path d="M692.3,163.7 697.0,161.4 701.7,160.5 706.4,160.9 706.8,164.4 702.4,164.7 700.0,166.3 702.1,169.4 705.4,170.8 705.2,172.9 708.5,174.5 706.1,176.9 707.5,178.5 708.5,183.2 704.0,184.6 700.0,183.4 697.0,180.8 697.7,178.5 698.4,175.9 696.1,172.6 693.5,169.8 691.9,166.5Z" fill="#ebebeb" stroke="#d9d9d9" stroke-width="0.3"/>
<path d="M252.4,107.5 252.4,129.3 257.1,130.0 260.6,132.3 265.3,130.7 270.0,133.5 275.8,138.2 278.2,141.2M294.1,155.8 359.6,155.8 360.5,155.1 368.3,157.9 372.9,158.1 375.3,157.4 383.9,160.9 387.0,162.8 389.3,164.4 389.6,169.8 388.2,171.7 389.3,172.9 397.5,170.3 397.5,168.7 403.4,167.5 406.9,165.1 415.1,165.1 417.4,163.3 420.4,159.5 423.7,160.2 423.7,163.3 425.1,164.9M308.4,194.4 313.7,194.2 322.6,197.2 329.2,197.2 329.2,196.1 333.2,196.1 337.8,201.2 340.9,202.6 342.5,200.7 345.1,200.7 349.5,206.1 350.5,208.7 354.9,209.9M366.6,236.6 367.1,235.2 367.8,232.8 370.8,232.8 369.4,230.3 369.4,228.9 373.6,228.9 373.6,233.3 375.8,233.8M373.6,228.9 375.8,227.2M373.6,233.3 373.4,236.8 371.5,238.2M373.4,236.8 376.5,237.8 376.9,239.4M378.1,240.1 379.5,238.2 383.5,236.3 387.7,235.4M381.8,244.5 386.5,245.0M388.4,251.6 389.1,248.1M412.3,224.4 414.6,226.5 414.4,228.4M401.5,250.4 400.1,253.7M415.5,242.9 411.5,248.3 413.2,253.0 418.6,254.2 424.4,256.0 423.7,260.5 425.6,265.9 425.8,267.7M425.8,267.7 419.0,266.6 420.0,271.7 418.6,280.4M398.0,267.3 401.0,268.9 405.7,270.6 410.4,275.9 418.6,280.4M394.5,278.5 394.5,280.9 397.5,282.3 398.7,278.7 405.7,270.8M418.6,280.4 411.5,282.3 409.2,288.1 412.7,292.8 417.4,292.8 417.4,296.3 419.7,296.3M419.7,296.3 420.9,299.8 420.9,306.9 419.7,311.5 417.6,313.4M419.7,296.3 429.6,293.5 430.3,298.7 440.8,302.9 442.0,308.7 445.9,308.7 447.3,312.7 446.6,317.4M419.7,311.5 422.1,315.1 422.8,320.9 425.6,324.4M425.6,324.4 430.3,322.1 435.6,322.6 436.8,318.6 444.3,315.8 446.6,317.4M446.6,317.4 446.6,322.1 452.0,322.8 454.8,326.8 454.6,330.3M435.6,322.6 442.0,326.8 447.6,330.0 445.2,334.3 451.3,334.5 454.6,330.3M425.6,324.4 422.1,327.9 422.5,333.8 419.0,340.8 417.9,347.9 417.4,354.9 416.2,360.7 414.4,366.6 414.6,373.6 415.1,378.3 412.7,385.3 411.5,388.8 413.9,392.4 420.9,392.8 422.3,393.3M421.8,394.0 421.8,399.2M454.6,330.3 456.7,333.8 451.8,336.8 447.6,341.3 446.2,347.9 445.7,350.2M447.6,341.3 452.5,342.7 457.2,346.7 457.4,349.5M425.8,267.7 430.3,268.2 432.6,265.4 432.6,261.2 436.1,261.2 440.3,258.4 438.9,256.5 442.0,250.6M440.3,258.4 442.4,260.2 442.4,265.4 444.8,267.5 449.0,265.9 448.3,258.1 448.5,256.5M449.0,265.9 454.8,265.2 456.0,257.2M454.8,265.2 459.5,265.4 461.4,260.9M577.2,188.3 578.4,191.6 579.5,195.1 573.9,197.9 569.5,200.7 562.0,203.3 562.0,206.6M562.0,205.7 551.5,205.7M562.0,206.6 562.0,209.6 554.3,209.6 554.3,215.5 551.9,216.7 551.9,220.7 542.6,220.7M562.0,206.6 571.1,212.0 585.2,221.1 589.8,224.9 595.9,224.9 599.9,221.8 610.4,215.5 605.7,213.2 604.6,208.7 605.5,205.0 604.6,199.8 603.4,195.6 600.1,192.1 601.8,188.6 602.5,184.1M604.6,199.8 609.3,194.7 609.5,192.8M640.8,196.5 640.8,219.0 640.8,223.7 638.5,223.7 638.5,224.9 619.8,215.7 617.4,216.7 615.6,217.6 610.4,215.5M640.8,219.0 668.7,219.0M571.1,212.0 567.1,212.0 569.5,231.9 569.9,234.2 559.0,234.5 555.4,234.2 553.8,235.9 550.8,232.6 548.4,231.4 543.7,232.8M553.8,235.9 555.7,241.5 550.3,240.8 547.3,241.5 543.3,241.5M543.0,238.7 547.3,238.2 550.1,239.2 547.3,239.6 543.0,239.9M550.3,240.8 550.3,243.1 547.3,244.8M555.7,241.5 560.6,241.5 563.6,246.7 562.5,252.7M551.2,249.2 555.4,247.1 557.8,251.1 555.4,254.4M557.8,251.1 562.5,252.7 564.8,260.2M563.6,246.7 569.5,246.2 575.8,247.8 574.9,258.6M569.5,246.2 572.3,240.8 577.7,237.3 582.8,235.4 584.7,235.6 590.5,234.2 592.2,231.9 592.2,225.8 589.8,224.9M582.8,235.4 587.5,241.3 590.8,243.1M575.8,247.8 575.8,244.8 582.4,244.5 584.5,244.8 587.5,241.3M582.4,244.5 583.5,250.6 585.2,256.3M584.5,244.8 586.1,256.0M590.8,243.1 588.7,255.6M590.8,243.1 591.7,238.9 598.7,240.1 603.4,240.6 610.4,239.6 613.9,238.5 615.1,239.9M613.9,238.5 618.6,231.2 618.6,223.7 617.4,216.7M615.1,239.9 616.3,243.6 612.8,248.3 610.0,254.2 606.9,254.6 603.4,258.8 602.2,259.8M638.5,224.9 638.5,233.8 635.0,237.8 633.8,241.0 635.9,244.8 631.5,248.3 625.6,251.8 618.6,253.0 617.4,247.1 616.3,243.6M618.6,253.0 616.3,256.7 617.4,261.2 620.3,265.4 613.5,265.4 608.8,265.4 605.3,265.2M608.8,265.4 608.8,268.2 605.3,268.2M608.8,268.2 615.6,267.5 616.3,271.7 616.0,275.2 611.6,276.2 609.3,278.7 608.3,279.7M620.3,265.4 625.9,262.4 624.7,265.9 623.8,271.7 620.3,275.2 619.8,279.9 616.3,282.0 612.8,281.3 610.9,284.1M625.9,262.4 628.0,258.6 635.0,260.7 640.8,258.8 646.5,258.8M635.9,244.8 638.5,250.2 646.5,258.8 654.4,262.4M638.5,250.2 643.2,247.1 650.2,247.8 657.2,242.4 661.7,248.3M661.7,248.3 662.1,245.3 665.4,241.3 667.8,237.1 668.9,230.7 672.7,228.4M667.8,237.1 673.6,236.3 679.9,240.1 683.2,240.8M679.9,243.6 683.0,244.8 683.0,248.3 687.6,250.6 694.7,251.8 687.6,258.8 680.6,260.9 680.4,261.4M679.9,243.6 681.6,241.5 683.7,243.6M680.4,261.4 674.8,262.6 671.3,262.1 666.6,260.2 666.3,259.8 661.9,260.7 654.9,261.9 654.4,262.4M661.7,248.3 659.6,251.8 664.2,257.7 666.3,259.8M680.4,261.4 678.3,264.0 678.3,272.4 679.4,274.5M674.1,281.6 670.3,277.6 661.9,272.9 653.7,272.9 651.6,273.8M661.9,272.9 661.9,269.4 664.2,266.3 661.9,260.7M654.4,262.4 654.9,265.4 652.1,270.1 651.6,273.8 650.2,276.9 650.9,280.9 651.4,284.6 654.2,289.8 659.3,292.6 661.9,292.8 663.1,297.5 668.9,297.7 676.9,295.1M650.2,276.9 654.4,276.2 653.7,272.9M650.9,280.9 653.7,278.7 654.4,276.2M610.9,284.1 612.8,284.4 621.0,284.4 622.1,288.1 628.0,289.1 633.4,287.7 633.4,292.8 634.5,296.8 638.5,296.1 638.5,301.0 633.8,301.0 633.8,308.5 637.1,311.8M638.5,296.1 641.8,297.7 645.5,298.7 649.0,300.3 651.4,301.9 652.1,299.1 648.8,298.2 649.3,292.1 654.2,289.8M610.0,311.1 613.9,310.4 615.6,311.3 625.6,311.3 631.5,312.7 637.1,311.8 641.5,312.2M631.5,313.4 631.5,322.1 629.1,322.1 629.1,328.6 629.1,337.1 623.3,337.8 621.0,337.5M629.1,328.6 633.8,332.6 636.2,329.8 642.0,330.8 645.5,326.1 651.1,322.6 655.6,323.0M641.5,312.2 643.2,316.2 647.2,318.6 651.1,322.6M641.5,312.2 645.5,312.5 650.0,308.0 653.5,307.1 659.3,309.7 659.6,315.1 658.4,320.4 655.6,323.0 657.2,327.9 657.2,333.3 659.3,333.3M653.5,307.1 653.0,305.5 660.0,303.3 659.3,292.6M660.0,303.3 663.1,304.5 666.1,308.0 664.7,310.6 662.8,308.5 663.1,297.5M649.0,337.8 651.1,339.7 648.3,342.0 646.0,340.4 649.0,337.8M654.9,331.0 657.2,332.2 656.8,334.3 654.9,333.8 654.9,331.0M561.8,172.4 563.4,172.4 566.9,172.4 567.8,173.3 566.2,176.1 566.0,177.8 564.8,177.8 566.0,179.7 565.3,180.6 566.0,181.3 565.0,183.4M578.1,168.9 584.0,170.3 589.8,171.2M588.2,150.8 592.2,153.4 595.9,154.6 601.5,155.8 600.1,159.0M590.3,150.1 594.0,150.1 596.4,151.6 596.9,149.0 598.7,148.0 599.2,145.7M596.4,151.6 596.9,153.4 595.9,154.6M600.1,159.0 596.4,162.3 598.7,163.0 598.3,167.0 599.9,167.9M600.1,159.0 604.8,159.3 606.7,160.7 603.4,162.8 598.7,163.0M602.7,141.9 605.5,142.2M615.8,144.3 616.7,148.7 617.4,151.1 610.9,152.7 614.6,156.2 612.8,159.3 606.7,159.3 604.8,159.3M617.4,151.1 621.9,152.5 626.3,154.6 635.0,155.5 638.5,152.0 637.6,148.7 638.3,144.3 637.3,143.6M628.7,143.1 635.7,143.1 637.3,143.6 642.0,143.6 644.6,140.1 648.3,139.1M635.7,143.1 635.7,141.5 632.0,141.0M614.6,156.2 617.4,155.8 622.1,156.2 626.3,154.6M622.1,156.2 622.4,158.1 620.0,160.7 614.4,161.6 610.7,160.5 606.7,160.7M614.4,161.6 614.2,163.5M622.4,158.1 626.3,158.6 629.1,157.6 634.1,157.2 635.9,158.1 632.7,162.3 629.8,162.6 626.3,163.0 620.5,161.6 620.0,160.7M634.1,157.2 635.0,155.5M635.9,158.1 640.6,158.8 644.6,157.4 647.9,157.4 652.5,161.9 648.3,164.0 651.8,164.4M644.6,157.4 648.3,164.0M632.7,162.3 632.4,165.6 635.5,167.0 640.8,168.2 645.5,167.2 649.3,168.2M635.5,167.0 634.8,171.5 636.2,173.8 639.7,173.3 643.4,173.8 644.1,172.9 647.9,172.2M643.4,173.8 643.2,175.2M629.1,177.6 630.5,174.5 631.5,174.7 636.2,173.8M627.7,172.4 630.5,174.5M614.2,164.0 618.1,164.0 620.5,161.6M618.1,164.0 619.3,164.7 619.8,167.5 623.3,169.8 625.6,171.0M626.3,163.0 626.8,165.4 628.0,167.5 627.3,168.7 625.6,171.0 627.7,172.4 630.3,171.5 634.8,171.5M619.3,164.7 626.8,165.4M630.3,171.5 630.5,174.5M637.6,149.7 640.8,149.0 647.9,149.7 653.9,150.4 656.8,148.5 661.9,148.0 665.4,152.5 671.3,153.7 675.9,154.4 675.2,158.6 671.7,160.2M656.8,148.5 655.6,145.9 658.9,145.2 654.6,140.3 648.3,139.1 646.5,135.9 647.9,131.2M631.5,139.1 639.7,138.7 644.6,140.1M639.2,134.9 646.5,135.9M647.9,128.6 652.5,125.5 656.1,123.2 652.5,120.6 652.1,115.9 650.2,112.0 649.7,108.7 654.4,107.0M639.0,116.4 637.6,111.5 630.5,108.7 642.5,108.4 643.2,106.6 648.6,106.6 649.7,108.7M630.5,108.7 624.5,110.1 619.8,113.6 616.3,115.7 615.1,119.5 610.7,121.6 611.1,126.5 611.8,129.1 610.0,131.9 608.6,132.3M565.3,141.7 563.4,142.9 565.3,143.8 567.8,143.8M679.4,173.3 684.1,174.3 684.6,176.6 687.2,177.6 686.2,180.6 687.2,183.4 681.6,183.6 675.9,184.3 671.3,184.3 668.2,185.8 666.6,186.5M675.9,168.9 683.0,170.5 690.9,172.4 694.2,174.0 696.1,172.6M687.2,177.6 691.1,179.4 694.7,177.6 696.8,180.6M684.1,174.3 687.6,173.8 690.9,172.4M687.6,173.8 688.8,175.2 691.1,179.4M681.6,183.6 678.7,189.0 673.1,192.3 674.1,195.1 668.9,196.8 671.3,199.1 670.1,200.3 666.8,202.1 664.2,201.7M673.1,192.3 668.5,194.9 665.9,194.0 665.4,196.8 664.2,201.4M665.9,194.0 666.3,192.5 668.0,190.4 666.6,189.5M664.5,193.0 666.3,192.5M662.6,197.2 664.0,201.4M674.1,195.1 680.6,197.5 686.9,202.1 691.1,202.4 694.0,203.8 695.6,203.8M691.1,202.4 694.4,200.3M687.2,183.4 690.0,186.7 688.8,189.7 690.0,193.0 694.2,196.1 696.1,200.3M682.5,232.1 683.7,229.6 692.3,230.7 696.5,227.4 704.0,226.0 711.0,223.7 712.7,219.0 711.5,217.4 705.4,216.9 703.1,213.9M704.0,226.0 706.6,231.7M711.5,217.4 713.4,214.1 714.3,212.2M701.2,212.7 702.1,212.9M708.5,183.2 713.4,181.5 718.1,182.5 725.5,184.8 724.1,190.9 724.8,196.8 726.9,197.0 724.8,200.7 730.5,206.8 729.3,208.5 726.5,211.5M724.8,200.7 737.5,200.5 744.5,195.8 746.1,192.5 748.9,190.9 749.6,186.2 757.6,183.4M725.5,184.8 733.5,185.5 737.9,182.9 741.5,183.9 745.0,182.5 749.6,181.8 749.9,184.6 757.6,183.4M737.9,182.9 727.4,176.9 722.7,174.0 719.5,170.3 713.4,173.8 713.4,165.1 719.2,163.7 725.1,166.8 733.3,168.4 736.8,171.2 741.5,174.5 746.1,172.2 748.5,171.5 754.3,169.8 757.8,170.3 770.0,171.7M713.4,173.8 709.9,172.2 705.2,172.9M770.0,171.7 762.0,174.7 755.0,178.0 757.6,183.4M748.5,171.5 747.3,174.5 753.2,175.7 747.3,176.9 755.0,178.0M741.5,174.5 740.3,178.0 742.2,181.1 741.5,183.9M747.3,176.9 743.8,176.4 741.5,174.5M691.6,157.2 692.3,153.4 695.8,152.3 701.7,149.4 709.9,151.1 719.2,151.1 726.2,150.6 725.1,144.3 734.4,142.9 743.8,141.0 748.5,143.6 754.3,144.1 761.3,143.6 764.4,145.7 769.5,151.6 777.7,151.1 782.4,154.4 786.6,155.3M691.6,157.2 693.5,158.6 697.0,161.4M786.6,155.3 783.1,157.2 782.4,160.2 776.5,160.0 774.9,164.0 769.5,165.1 771.2,169.4 770.0,171.7M786.6,155.3 792.2,153.9 798.8,151.6 804.6,153.4 811.6,152.3 812.3,148.7 821.0,150.1 821.7,152.0 831.5,152.7 836.2,154.8 842.1,154.8 849.1,153.0 855.4,153.9M786.6,155.3 788.2,156.9 794.1,159.3 795.3,164.7 805.8,167.0 807.9,170.3 818.7,170.8 828.0,173.1 839.7,170.5 844.4,167.9 843.9,165.1 850.3,164.2 853.8,161.9 862.4,161.2 859.6,158.6 853.8,158.3 855.4,153.9M855.4,153.9 862.0,152.5 865.0,147.6 871.3,145.2 877.2,146.9 880.7,153.0 888.2,156.0 888.9,158.8 897.5,157.4 894.7,164.0 889.3,165.6 889.3,169.8 887.9,171.2M887.9,171.2 881.8,172.2 879.0,172.9 873.4,176.9M877.4,182.0 882.8,180.1M835.0,220.2 831.8,217.8 828.7,216.0 821.5,218.1 819.1,220.9 814.5,218.8 813.5,214.3 810.7,214.3 813.3,206.1 810.2,204.3M810.2,204.3 807.4,201.9 804.6,202.1 797.6,205.4 790.6,206.6 790.1,205.0 783.6,205.0 778.9,202.1 772.3,199.8 767.2,197.9 766.5,194.4 768.4,193.2 766.7,190.0 764.4,187.4 760.2,186.2 757.6,183.4M788.5,208.7 781.2,208.0 776.5,206.4 770.0,203.1 772.3,199.8M788.5,208.7 790.1,205.0M797.6,205.4 797.6,207.8 790.6,208.0 790.1,206.6M764.4,187.4 755.5,189.3 756.7,193.7 758.5,194.9 756.4,197.9 753.2,200.5 750.6,205.0 747.1,205.0 745.2,206.8 747.8,210.3 748.5,213.4 743.3,213.6 741.9,215.0M788.5,208.7 790.6,209.2 792.5,211.3 798.1,211.8 798.3,213.6 795.7,214.3 796.0,216.2 798.3,216.0 798.3,220.2M788.5,208.7 788.7,212.2 790.1,213.6 790.1,219.0 790.6,219.7M798.3,220.2 800.4,218.5 800.6,214.3 803.9,210.8 805.1,207.3 809.3,205.4 810.2,204.3M819.1,220.9 816.6,223.0 814.0,223.5 811.2,227.2 810.2,230.7 813.3,232.4 812.1,235.4 814.5,240.1 815.4,242.9 813.5,246.4M816.6,223.0 817.7,224.9 819.4,224.9 818.7,228.9 821.2,227.9 823.8,227.4 827.3,229.6 827.6,232.6 829.4,234.2 828.5,237.1 823.3,237.1 821.9,238.7 823.1,243.1M821.5,218.1 823.1,219.7 825.9,222.8 826.9,224.6 825.5,225.3 828.5,227.0 831.8,230.7 833.9,234.9 833.9,236.1 834.1,241.5 830.1,243.1 829.9,245.0 826.6,246.2M828.5,237.1 833.9,236.1M816.6,255.6 818.9,257.2 821.2,256.0M838.8,265.9 840.9,268.4 844.4,267.3 849.1,267.0 851.7,264.0 852.8,260.7 857.5,260.7M849.3,259.8 851.0,260.9 852.1,259.1M912.3,276.6 912.3,291.9M872.5,292.6 874.8,292.1 875.1,290.7" fill="none" stroke="#d8d8d8" stroke-width="0.6" stroke-linejoin="round"/>
<rect x="114.4" y="36.3" width="935.9" height="468.5" fill="none" stroke="#333" stroke-width="1"/>
<line x1="111.4" y1="36.3" x2="114.4" y2="36.3" stroke="#333" stroke-width="1"/>
<text x="107.3" y="41.6" font-size="14.7" text-anchor="end" fill="#1a1a1a">100</text>
<line x1="111.4" y1="153.4" x2="114.4" y2="153.4" stroke="#333" stroke-width="1"/>
<text x="107.3" y="158.7" font-size="14.7" text-anchor="end" fill="#1a1a1a">50</text>
<line x1="111.4" y1="270.6" x2="114.4" y2="270.6" stroke="#333" stroke-width="1"/>
<text x="107.3" y="275.9" font-size="14.7" text-anchor="end" fill="#1a1a1a">0</text>
<line x1="111.4" y1="387.7" x2="114.4" y2="387.7" stroke="#333" stroke-width="1"/>
<text x="107.3" y="393.0" font-size="14.7" text-anchor="end" fill="#1a1a1a">−50</text>
<line x1="111.4" y1="504.8" x2="114.4" y2="504.8" stroke="#333" stroke-width="1"/>
<text x="107.3" y="510.1" font-size="14.7" text-anchor="end" fill="#1a1a1a">−100</text>
<line x1="114.4" y1="504.8" x2="114.4" y2="507.8" stroke="#333" stroke-width="1"/>
<text x="113.9" y="526.2" font-size="14.7" text-anchor="middle" fill="#1a1a1a">−200</text>
<line x1="348.4" y1="504.8" x2="348.4" y2="507.8" stroke="#333" stroke-width="1"/>
<text x="347.9" y="526.2" font-size="14.7" text-anchor="middle" fill="#1a1a1a">−100</text>
<line x1="582.4" y1="504.8" x2="582.4" y2="507.8" stroke="#333" stroke-width="1"/>
<text x="581.9" y="526.2" font-size="14.7" text-anchor="middle" fill="#1a1a1a">0</text>
<line x1="816.3" y1="504.8" x2="816.3" y2="507.8" stroke="#333" stroke-width="1"/>
<text x="815.8" y="526.2" font-size="14.7" text-anchor="middle" fill="#1a1a1a">100</text>
<line x1="1050.3" y1="504.8" x2="1050.3" y2="507.8" stroke="#333" stroke-width="1"/>
<text x="1049.8" y="526.2" font-size="14.7" text-anchor="middle" fill="#1a1a1a">200</text>
<text x="577.9" y="549" font-size="14.6" text-anchor="middle" fill="#111">longitude</text>
<text transform="translate(79.8,270) rotate(-90)" font-size="14.6" text-anchor="middle" fill="#111">latitude</text>
<polygon points="317.5,193.9 310.3,205.9 324.7,205.9" fill="#e30a17"/>
<polygon points="314.2,193.2 307.0,205.2 321.4,205.2" fill="#000"/>
<polygon points="323.6,199.6 316.4,211.6 330.8,211.6" fill="#e30a17"/>
<polygon points="321.0,204.1 313.8,216.1 328.2,216.1" fill="#000"/>
<polygon points="327.7,207.4 320.5,219.4 334.9,219.4" fill="#000"/>
<polygon points="393.6,220.1 386.4,232.1 400.8,232.1" fill="#000"/>
<polygon points="390.9,220.6 383.7,232.6 398.1,232.6" fill="#e30a17"/>
<polygon points="506.5,175.5 499.3,187.5 513.7,187.5" fill="#000"/>
<polygon points="565.5,96.2 558.3,108.2 572.7,108.2" fill="#000"/>
<polygon points="571.0,96.7 563.8,108.7 578.2,108.7" fill="#000"/>
<polygon points="586.0,93.7 578.8,105.7 593.2,105.7" fill="#000"/>
<polygon points="601.0,91.2 593.8,103.2 608.2,103.2" fill="#000"/>
<polygon points="169.0,314.5 161.8,326.5 176.2,326.5" fill="#000"/>
<polygon points="1004.0,344.3 996.8,356.3 1011.2,356.3" fill="#e30a17"/>
<polygon points="1001.2,344.3 994.0,356.3 1008.4,356.3" fill="#000"/>
<circle cx="302.9" cy="175.4" r="6.2" fill="#000"/>
<circle cx="323.2" cy="166" r="6.2" fill="#000"/>
<circle cx="956.5" cy="143.5" r="6.2" fill="#000"/>
<circle cx="888.5" cy="196" r="6.2" fill="#e30a17"/>
<circle cx="911.5" cy="180.5" r="6.2" fill="#e30a17"/>
<circle cx="819.5" cy="261" r="6.2" fill="#000"/>
<circle cx="822" cy="261" r="6.2" fill="#e30a17"/>
<circle cx="995.2" cy="360.4" r="6.2" fill="#000"/>
<rect x="381.2" y="246.0" width="8.7" height="8.7" fill="none" stroke="#e30a17" stroke-width="1.5"/><polygon points="385.6,246.3 382.0,254.3 389.2,254.3" fill="none" stroke="#e30a17" stroke-width="1.25" stroke-linejoin="miter"/>
<rect x="867.9" y="181.8" width="8.7" height="8.7" fill="none" stroke="#000" stroke-width="1.5"/><polygon points="872.3,182.2 868.7,190.2 875.9,190.2" fill="none" stroke="#000" stroke-width="1.25" stroke-linejoin="miter"/>
<rect x="902.1" y="243.2" width="8.7" height="8.7" fill="none" stroke="#000" stroke-width="1.5"/><polygon points="906.5,243.5 902.9,251.5 910.1,251.5" fill="none" stroke="#000" stroke-width="1.25" stroke-linejoin="miter"/>
<text x="1082.3" y="247.4" font-size="14.5" font-weight="bold" fill="#000">Habitats</text>
<rect x="1082" y="255.3" width="15.8" height="15.8" fill="#e9e9e9"/>
<rect x="1082" y="274" width="15.8" height="15.8" fill="#e9e9e9"/>
<rect x="1082" y="293.1" width="15.8" height="15.8" fill="#e9e9e9"/>
<circle cx="1089.8" cy="263.1" r="4.8" fill="#000"/>
<polygon points="1090.1,276 1084,285.5 1096.2,285.5" fill="#000"/>
<rect x="1085.2" y="296.6" width="9.3" height="9.1" fill="none" stroke="#333" stroke-width="0.9"/><polygon points="1089.9,297 1085.9,305.3 1093.9,305.3" fill="none" stroke="#333" stroke-width="0.8"/>
<text x="1104.3" y="267.3" font-size="13.2" fill="#000">Hot spring</text>
<text x="1104.3" y="285" font-size="13.2" fill="#000">Hydrothermal field</text>
<text x="1104.3" y="305.5" font-size="13.2" fill="#000">Other marine</text>
</g>
<text x="50.3" y="71" font-size="28.3" fill="#111">a</text>
<text x="49" y="604.9" font-size="28.3" fill="#111">b</text>
<text x="583.8" y="604.3" font-size="28.3" fill="#111">c</text>
<g id="panelC"><line x1="606.5" y1="624.3" x2="625.2" y2="624.3" stroke="#111" stroke-width="1.5" stroke-linecap="square"/>
<line x1="625.2" y1="575.7" x2="625.2" y2="663.4" stroke="#111" stroke-width="1.5" stroke-linecap="square"/>
<line x1="625.2" y1="575.7" x2="976" y2="575.7" stroke="#666" stroke-width="1.1" stroke-linecap="square"/>
<polygon points="975.6,575.7 980.6,556.3 980.6,595.2" fill="#8c8c8c"/>
<line x1="983" y1="575.7" x2="1163" y2="575.7" stroke="#a8a8a8" stroke-width="1" stroke-dasharray="1.7,2.1"/>
<line x1="625.2" y1="663.4" x2="663.8" y2="663.4" stroke="#111" stroke-width="1.5" stroke-linecap="square"/>
<line x1="663.8" y1="620.9" x2="663.8" y2="663.4" stroke="#2e839b" stroke-width="1.5" stroke-linecap="square"/>
<line x1="663.8" y1="663.4" x2="663.8" y2="702.4" stroke="#111" stroke-width="1.5" stroke-linecap="square"/>
<line x1="663.8" y1="620.9" x2="704.7" y2="620.9" stroke="#2e839b" stroke-width="1.5" stroke-linecap="square"/>
<line x1="704.7" y1="606.3" x2="704.7" y2="634.4" stroke="#2e839b" stroke-width="1.5" stroke-linecap="square"/>
<line x1="704.7" y1="606.3" x2="749.2" y2="606.3" stroke="#2e839b" stroke-width="1.5" stroke-linecap="square"/>
<line x1="752" y1="606.3" x2="1133" y2="606.3" stroke="#a8a8a8" stroke-width="1" stroke-dasharray="1.7,2.1"/>
<line x1="704.7" y1="634.4" x2="769" y2="634.4" stroke="#2e839b" stroke-width="1.5" stroke-linecap="square"/>
<polygon points="768.6,634.4 918.6,619.4 918.6,649.4" fill="#2e839b"/>
<line x1="921" y1="634.4" x2="1159" y2="634.4" stroke="#a8a8a8" stroke-width="1" stroke-dasharray="1.7,2.1"/>
<line x1="663.8" y1="702.4" x2="786" y2="702.4" stroke="#111" stroke-width="1.5" stroke-linecap="square"/>
<line x1="786" y1="660.6" x2="786" y2="702.4" stroke="#2e839b" stroke-width="1.5" stroke-linecap="square"/>
<line x1="786" y1="702.4" x2="786" y2="743.7" stroke="#111" stroke-width="1.5" stroke-linecap="square"/>
<line x1="786" y1="660.6" x2="920.6" y2="660.6" stroke="#2e839b" stroke-width="1.5" stroke-linecap="square"/>
<line x1="926" y1="660.6" x2="956" y2="660.6" stroke="#a8a8a8" stroke-width="1" stroke-dasharray="1.7,2.1"/>
<line x1="786" y1="743.7" x2="828.6" y2="743.7" stroke="#111" stroke-width="1.5" stroke-linecap="square"/>
<line x1="828.6" y1="683.4" x2="828.6" y2="743.7" stroke="#2e839b" stroke-width="1.5" stroke-linecap="square"/>
<line x1="828.6" y1="743.7" x2="828.6" y2="803.4" stroke="#111" stroke-width="1.5" stroke-linecap="square"/>
<line x1="828.6" y1="683.4" x2="1085" y2="683.4" stroke="#2e839b" stroke-width="1.5" stroke-linecap="square"/>
<polygon points="1084.3,683.4 1091.6,670.6 1091.6,697.2" fill="#2e839b"/>
<line x1="1094" y1="683.4" x2="1156" y2="683.4" stroke="#a8a8a8" stroke-width="1" stroke-dasharray="1.7,2.1"/>
<line x1="828.6" y1="803.4" x2="869.4" y2="803.4" stroke="#111" stroke-width="1.5" stroke-linecap="square"/>
<line x1="869.4" y1="718.4" x2="869.4" y2="803.4" stroke="#2e839b" stroke-width="1.5" stroke-linecap="square"/>
<line x1="869.4" y1="803.4" x2="869.4" y2="888.6" stroke="#111" stroke-width="1.5" stroke-linecap="square"/>
<line x1="869.4" y1="718.4" x2="882" y2="718.4" stroke="#2e839b" stroke-width="1.5" stroke-linecap="square"/>
<polygon points="881.4,718.4 1018.6,700.6 1018.6,735.8" fill="#2e839b"/>
<line x1="1021" y1="718.4" x2="1168" y2="718.4" stroke="#a8a8a8" stroke-width="1" stroke-dasharray="1.7,2.1"/>
<line x1="869.4" y1="888.6" x2="888.2" y2="888.6" stroke="#111" stroke-width="1.5" stroke-linecap="square"/>
<line x1="888.2" y1="792" x2="888.2" y2="984.3" stroke="#111" stroke-width="1.5" stroke-linecap="square"/>
<line x1="888.2" y1="792" x2="925.2" y2="792" stroke="#444" stroke-width="1.1" stroke-linecap="square"/>
<line x1="925.2" y1="755.7" x2="925.2" y2="792" stroke="#2e839b" stroke-width="1.5" stroke-linecap="square"/>
<line x1="925.2" y1="792" x2="925.2" y2="827.8" stroke="#7a9a3c" stroke-width="1.5" stroke-linecap="square"/>
<line x1="925.2" y1="755.7" x2="947" y2="755.7" stroke="#2e839b" stroke-width="1.5" stroke-linecap="square"/>
<polygon points="946.6,755.7 962.4,740.9 962.4,771.5" fill="#2e839b"/>
<line x1="965" y1="755.7" x2="1126" y2="755.7" stroke="#a8a8a8" stroke-width="1" stroke-dasharray="1.7,2.1"/>
<line x1="925.2" y1="827.8" x2="978" y2="827.8" stroke="#7a9a3c" stroke-width="1.5" stroke-linecap="square"/>
<polygon points="977.7,827.8 991,770.6 991,884.4" fill="#7a9a3c"/>
<line x1="993.5" y1="827.8" x2="1126" y2="827.8" stroke="#a8a8a8" stroke-width="1" stroke-dasharray="1.7,2.1"/>
<line x1="888.2" y1="984.3" x2="895.2" y2="984.3" stroke="#111" stroke-width="1.5" stroke-linecap="square"/>
<line x1="895.2" y1="891.7" x2="895.2" y2="984.3" stroke="#2e839b" stroke-width="1.5" stroke-linecap="square"/>
<line x1="895.2" y1="984.3" x2="895.2" y2="1078.2" stroke="#111" stroke-width="1.5" stroke-linecap="square"/>
<line x1="895.2" y1="891.7" x2="936.8" y2="891.7" stroke="#2e839b" stroke-width="1.5" stroke-linecap="square"/>
<line x1="941.5" y1="891.7" x2="962" y2="891.7" stroke="#a8a8a8" stroke-width="1" stroke-dasharray="1.7,2.1"/>
<line x1="895.2" y1="1078.2" x2="914.4" y2="1078.2" stroke="#111" stroke-width="1.5" stroke-linecap="square"/>
<line x1="914.4" y1="1004" x2="914.4" y2="1078.2" stroke="#2e839b" stroke-width="1.5" stroke-linecap="square"/>
<line x1="914.4" y1="1078.2" x2="914.4" y2="1151.6" stroke="#7a9a3c" stroke-width="1.5" stroke-linecap="square"/>
<line x1="914.4" y1="1004" x2="926.5" y2="1004" stroke="#2e839b" stroke-width="1.5" stroke-linecap="square"/>
<polygon points="926,1004 948.4,898.6 948.4,1111" fill="#2e839b"/>
<line x1="951" y1="1004" x2="1125" y2="1004" stroke="#a8a8a8" stroke-width="1" stroke-dasharray="1.7,2.1"/>
<line x1="914.4" y1="1151.6" x2="956.5" y2="1151.6" stroke="#7a9a3c" stroke-width="1.5" stroke-linecap="square"/>
<polygon points="956.1,1151.6 962,1111 962,1192" fill="#7a9a3c"/>
<line x1="964.5" y1="1151.6" x2="1125" y2="1151.6" stroke="#a8a8a8" stroke-width="1" stroke-dasharray="1.7,2.1"/>
<text x="1226.3" y="580.3" font-size="13.1" text-anchor="end" fill="#111" font-style="italic">Sulfolobus</text>
<text x="1226.3" y="609.3" font-size="13.1" text-anchor="end" fill="#111" >GB192_bin.217</text>
<text x="1226.3" y="639" font-size="13.1" text-anchor="end" fill="#111" >JAOZFZ01</text>
<text x="1226.3" y="664.8" font-size="13.1" text-anchor="end" fill="#111">SRR10312493 bin.3; Marine; <tspan font-style="italic">Korarchaeaceae</tspan></text>
<text x="1226.3" y="688" font-size="13.1" text-anchor="end" fill="#111" >JAOZGB01</text>
<text x="1226.3" y="723" font-size="13.1" text-anchor="end" fill="#111" >QMVU01</text>
<text x="1226.3" y="760.3" font-size="13.1" text-anchor="end" fill="#111" font-style="italic">Korarchaeaceae</text>
<text x="1226.3" y="832.3" font-size="13.1" text-anchor="end" fill="#111" font-style="italic">Korarchaeaceae</text>
<text x="1222.5" y="896.3" font-size="13.1" text-anchor="end" fill="#111">GCA 027491915.1; Marine; <tspan font-style="italic">Korarchaeaceae</tspan></text>
<text x="1226.3" y="1008.5" font-size="13.1" text-anchor="end" fill="#111" font-style="italic">Korarchaeaceae</text>
<text x="1226.3" y="1156.2" font-size="13.1" text-anchor="end" fill="#111" font-style="italic">Korarchaeaceae</text>
<text x="962.3" y="590.3" font-size="11" text-anchor="middle" fill="#111" >100</text>
<text x="693" y="632.6" font-size="11" text-anchor="middle" fill="#111" >75</text>
<text x="755.7" y="648.5" font-size="11" text-anchor="middle" fill="#111" >100</text>
<text x="771" y="717.5" font-size="11" text-anchor="middle" fill="#111" >98</text>
<text x="1071" y="696.2" font-size="11" text-anchor="middle" fill="#111" >100</text>
<text x="871.5" y="712.8" font-size="11" text-anchor="middle" fill="#111" >56</text>
<text x="936.3" y="749.8" font-size="11" text-anchor="middle" fill="#111" >78</text>
<text x="911.4" y="788.4" font-size="11" text-anchor="middle" fill="#111" >71</text>
<text x="964.3" y="841.8" font-size="11" text-anchor="middle" fill="#111" >99</text>
<text x="941.5" y="1166" font-size="11" text-anchor="middle" fill="#111" >98</text>
<line x1="740.5" y1="850.9" x2="852.5" y2="850.9" stroke="#111" stroke-width="1.3" stroke-linecap="square"/>
<text x="796.6" y="868.2" font-size="12.5" text-anchor="middle" fill="#111" >0.05</text>
<text x="783.2" y="1012.6" font-size="11.8" font-weight="bold" fill="#111">Habitats</text>
<circle cx="791" cy="1028.7" r="5" fill="#2e839b"/>
<circle cx="791" cy="1046.6" r="5" fill="#7a9a3c"/>
<text x="799.4" y="1032.3" font-size="10.9" text-anchor="start" fill="#111" >Marine</text>
<text x="799.4" y="1050.3" font-size="10.9" text-anchor="start" fill="#111" >Terrestrial</text></g>
<g id="panelB"><path d="M422.5,1154.5A280.0,280.0 0 1 1 357.5,602.2L357.5,692.4A189.8,189.8 0 1 0 401.6,1066.8Z" fill="#d5a3a1"/>
<path d="M495.6,1125.8A280.0,280.0 0 0 1 422.5,1154.5L401.6,1066.8A189.8,189.8 0 0 0 451.1,1047.3Z" fill="#5a908d"/>
<path d="M543.6,1091.4A280.0,280.0 0 0 1 495.6,1125.8L451.1,1047.3A189.8,189.8 0 0 0 483.6,1024.0Z" fill="#82c788"/>
<path d="M571.1,1063.3A280.0,280.0 0 0 1 543.6,1091.4L483.6,1024.0A189.8,189.8 0 0 0 502.3,1005.0Z" fill="#a6cdf0"/>
<path d="M620.4,978.7A280.0,280.0 0 0 1 571.1,1063.3L502.3,1005.0A189.8,189.8 0 0 0 535.7,947.6Z" fill="#f9d0a2"/>
<path d="M626.5,959.9A280.0,280.0 0 0 1 620.4,978.7L535.7,947.6A189.8,189.8 0 0 0 539.8,934.9Z" fill="#5f9c2e"/>
<text transform="translate(350.7,690.0) rotate(87.99)" font-size="8.75" font-weight="bold" text-anchor="end" fill="#111" stroke="#111" stroke-width="0.18" dy="3.1">GCA_032159035.1</text>
<text transform="translate(337.2,691.0) rotate(83.96)" font-size="8.75" font-weight="bold" text-anchor="end" fill="#111" stroke="#111" stroke-width="0.18" dy="3.1">GCA_027491395.1</text>
<text transform="translate(323.9,692.9) rotate(79.93)" font-size="8.75" font-weight="bold" text-anchor="end" fill="#111" stroke="#111" stroke-width="0.18" dy="3.1">GCA_030130125.1</text>
<text transform="translate(310.6,695.7) rotate(75.90)" font-size="8.75" font-weight="bold" text-anchor="end" fill="#111" stroke="#111" stroke-width="0.18" dy="3.1">3300028398_30</text>
<text transform="translate(297.6,699.5) rotate(71.87)" font-size="8.75" font-weight="bold" text-anchor="end" fill="#111" stroke="#111" stroke-width="0.18" dy="3.1">3300026531_26</text>
<text transform="translate(285.0,704.1) rotate(67.84)" font-size="8.75" font-weight="bold" text-anchor="end" fill="#111" stroke="#111" stroke-width="0.18" dy="3.1">GCA_027049915.1</text>
<text transform="translate(272.6,709.6) rotate(63.81)" font-size="8.75" font-weight="bold" text-anchor="end" fill="#111" stroke="#111" stroke-width="0.18" dy="3.1">GCA_015521385.1</text>
<text transform="translate(260.7,716.0) rotate(59.78)" font-size="8.75" font-weight="bold" text-anchor="end" fill="#111" stroke="#111" stroke-width="0.18" dy="3.1">GCA_027028455.1</text>
<text transform="translate(249.3,723.3) rotate(55.75)" font-size="8.75" font-weight="bold" text-anchor="end" fill="#111" stroke="#111" stroke-width="0.18" dy="3.1">GCA_027078475.1</text>
<text transform="translate(238.4,731.3) rotate(51.72)" font-size="8.75" font-weight="bold" text-anchor="end" fill="#111" stroke="#111" stroke-width="0.18" dy="3.1">GCA_027037495.1</text>
<text transform="translate(228.0,740.0) rotate(47.69)" font-size="8.75" font-weight="bold" text-anchor="end" fill="#111" stroke="#111" stroke-width="0.18" dy="3.1">GCA_027029585.1</text>
<text transform="translate(218.4,749.4) rotate(43.66)" font-size="8.75" font-weight="bold" text-anchor="end" fill="#111" stroke="#111" stroke-width="0.18" dy="3.1">GCA_027025945.1</text>
<text transform="translate(209.4,759.6) rotate(39.63)" font-size="8.75" font-weight="bold" text-anchor="end" fill="#111" stroke="#111" stroke-width="0.18" dy="3.1">GCA_027492045.1</text>
<text transform="translate(201.1,770.3) rotate(35.60)" font-size="8.75" font-weight="bold" text-anchor="end" fill="#111" stroke="#111" stroke-width="0.18" dy="3.1">GCA_027491985.1</text>
<text transform="translate(193.7,781.5) rotate(31.57)" font-size="8.75" font-weight="bold" text-anchor="end" fill="#111" stroke="#111" stroke-width="0.18" dy="3.1">GCA_027492155.1</text>
<text transform="translate(187.0,793.3) rotate(27.54)" font-size="8.75" font-weight="bold" text-anchor="end" fill="#111" stroke="#111" stroke-width="0.18" dy="3.1">GCA_027491785.1</text>
<text transform="translate(181.2,805.5) rotate(23.51)" font-size="8.75" font-weight="bold" text-anchor="end" fill="#111" stroke="#111" stroke-width="0.18" dy="3.1">GCA_032159025.1</text>
<text transform="translate(176.2,818.1) rotate(19.48)" font-size="8.75" font-weight="bold" text-anchor="end" fill="#e8232b" stroke="#e8232b" stroke-width="0.18" dy="3.1">SRR10312493_bin.3</text>
<text transform="translate(172.1,831.0) rotate(15.45)" font-size="8.75" font-weight="bold" text-anchor="end" fill="#111" stroke="#111" stroke-width="0.18" dy="3.1">GCA_027006555.1</text>
<text transform="translate(169.0,844.1) rotate(11.42)" font-size="8.75" font-weight="bold" text-anchor="end" fill="#111" stroke="#111" stroke-width="0.18" dy="3.1">GCA_027492195.1</text>
<text transform="translate(166.8,857.5) rotate(7.39)" font-size="8.75" font-weight="bold" text-anchor="end" fill="#111" stroke="#111" stroke-width="0.18" dy="3.1">GCA_027492095.1</text>
<text transform="translate(165.5,870.9) rotate(3.36)" font-size="8.75" font-weight="bold" text-anchor="end" fill="#e8232b" stroke="#e8232b" stroke-width="0.18" dy="3.1">GB133_bin.45</text>
<text transform="translate(165.2,884.5) rotate(-0.67)" font-size="8.75" font-weight="bold" text-anchor="end" fill="#111" stroke="#111" stroke-width="0.18" dy="3.1">GCA_000019605.1</text>
<text transform="translate(165.8,898.0) rotate(-4.70)" font-size="8.75" font-weight="bold" text-anchor="end" fill="#111" stroke="#111" stroke-width="0.18" dy="3.1">3300027863_171</text>
<text transform="translate(167.4,911.4) rotate(-8.73)" font-size="8.75" font-weight="bold" text-anchor="end" fill="#111" stroke="#111" stroke-width="0.18" dy="3.1">3300009503_170</text>
<text transform="translate(169.9,924.7) rotate(-12.76)" font-size="8.75" font-weight="bold" text-anchor="end" fill="#111" stroke="#111" stroke-width="0.18" dy="3.1">GCA_003948265.1</text>
<text transform="translate(173.4,937.8) rotate(-16.79)" font-size="8.75" font-weight="bold" text-anchor="end" fill="#111" stroke="#111" stroke-width="0.18" dy="3.1">3300025546_38</text>
<text transform="translate(177.8,950.6) rotate(-20.82)" font-size="8.75" font-weight="bold" text-anchor="end" fill="#111" stroke="#111" stroke-width="0.18" dy="3.1">3300020139_34</text>
<text transform="translate(183.0,963.0) rotate(-24.85)" font-size="8.75" font-weight="bold" text-anchor="end" fill="#111" stroke="#111" stroke-width="0.18" dy="3.1">3300005275_7</text>
<text transform="translate(189.1,975.1) rotate(-28.88)" font-size="8.75" font-weight="bold" text-anchor="end" fill="#111" stroke="#111" stroke-width="0.18" dy="3.1">GCA_020833055.1</text>
<text transform="translate(196.1,986.7) rotate(-32.91)" font-size="8.75" font-weight="bold" text-anchor="end" fill="#e8232b" stroke="#e8232b" stroke-width="0.18" dy="3.1">DRR163685_bin.7</text>
<text transform="translate(203.8,997.8) rotate(-36.94)" font-size="8.75" font-weight="bold" text-anchor="end" fill="#e8232b" stroke="#e8232b" stroke-width="0.18" dy="3.1">DRR082460_bin.77</text>
<text transform="translate(212.3,1008.3) rotate(-40.97)" font-size="8.75" font-weight="bold" text-anchor="end" fill="#111" stroke="#111" stroke-width="0.18" dy="3.1">GCA_003344655.1</text>
<text transform="translate(221.5,1018.2) rotate(-45.00)" font-size="8.75" font-weight="bold" text-anchor="end" fill="#111" stroke="#111" stroke-width="0.18" dy="3.1">GCA_027491435.1</text>
<text transform="translate(231.4,1027.4) rotate(-49.03)" font-size="8.75" font-weight="bold" text-anchor="end" fill="#111" stroke="#111" stroke-width="0.18" dy="3.1">GCA_004212055.1</text>
<text transform="translate(241.9,1035.9) rotate(-53.06)" font-size="8.75" font-weight="bold" text-anchor="end" fill="#111" stroke="#111" stroke-width="0.18" dy="3.1">3300027863_148</text>
<text transform="translate(253.0,1043.6) rotate(-57.09)" font-size="8.75" font-weight="bold" text-anchor="end" fill="#111" stroke="#111" stroke-width="0.18" dy="3.1">8012931703</text>
<text transform="translate(264.6,1050.6) rotate(-61.12)" font-size="8.75" font-weight="bold" text-anchor="end" fill="#e8232b" stroke="#e8232b" stroke-width="0.18" dy="3.1">SRR6344962_bin.36</text>
<text transform="translate(276.7,1056.7) rotate(-65.15)" font-size="8.75" font-weight="bold" text-anchor="end" fill="#e8232b" stroke="#e8232b" stroke-width="0.18" dy="3.1">DRR163685_bin.5</text>
<text transform="translate(289.1,1061.9) rotate(-69.18)" font-size="8.75" font-weight="bold" text-anchor="end" fill="#111" stroke="#111" stroke-width="0.18" dy="3.1">GCA_027491735.1</text>
<text transform="translate(301.9,1066.3) rotate(-73.21)" font-size="8.75" font-weight="bold" text-anchor="end" fill="#111" stroke="#111" stroke-width="0.18" dy="3.1">GCA_027491565.1</text>
<text transform="translate(315.0,1069.8) rotate(-77.24)" font-size="8.75" font-weight="bold" text-anchor="end" fill="#111" stroke="#111" stroke-width="0.18" dy="3.1">GCA_030130085.1</text>
<text transform="translate(328.3,1072.3) rotate(-81.27)" font-size="8.75" font-weight="bold" text-anchor="end" fill="#111" stroke="#111" stroke-width="0.18" dy="3.1">GCA_027491415.1</text>
<text transform="translate(341.7,1073.9) rotate(-85.30)" font-size="8.75" font-weight="bold" text-anchor="end" fill="#111" stroke="#111" stroke-width="0.18" dy="3.1">GCA_027492205.1</text>
<text transform="translate(355.2,1074.5) rotate(-89.33)" font-size="8.75" font-weight="bold" text-anchor="end" fill="#e8232b" stroke="#e8232b" stroke-width="0.18" dy="3.1">GB161_bin.186</text>
<text transform="translate(368.8,1074.2) rotate(86.64)" font-size="8.75" font-weight="bold" text-anchor="start" fill="#111" stroke="#111" stroke-width="0.18" dy="3.1">GCA_027491535.1</text>
<text transform="translate(382.2,1072.9) rotate(82.61)" font-size="8.75" font-weight="bold" text-anchor="start" fill="#111" stroke="#111" stroke-width="0.18" dy="3.1">GCA_027491915.1</text>
<text transform="translate(395.6,1070.7) rotate(78.58)" font-size="8.75" font-weight="bold" text-anchor="start" fill="#111" stroke="#111" stroke-width="0.18" dy="3.1">GCA_027491835.1</text>
<text transform="translate(408.7,1067.6) rotate(74.55)" font-size="8.75" font-weight="bold" text-anchor="start" fill="#e8232b" stroke="#e8232b" stroke-width="0.18" dy="3.1">Guay15_bin.4</text>
<text transform="translate(421.6,1063.5) rotate(70.52)" font-size="8.75" font-weight="bold" text-anchor="start" fill="#111" stroke="#111" stroke-width="0.18" dy="3.1">GCA_024281195.1</text>
<text transform="translate(434.2,1058.5) rotate(66.49)" font-size="8.75" font-weight="bold" text-anchor="start" fill="#111" stroke="#111" stroke-width="0.18" dy="3.1">3300024423_7</text>
<text transform="translate(446.4,1052.7) rotate(62.46)" font-size="8.75" font-weight="bold" text-anchor="start" fill="#e8232b" stroke="#e8232b" stroke-width="0.18" dy="3.1">ERS1370015_bin.95</text>
<text transform="translate(458.2,1046.0) rotate(58.43)" font-size="8.75" font-weight="bold" text-anchor="start" fill="#e8232b" stroke="#e8232b" stroke-width="0.18" dy="3.1">Guay1_bin.25</text>
<text transform="translate(469.4,1038.6) rotate(54.40)" font-size="8.75" font-weight="bold" text-anchor="start" fill="#111" stroke="#111" stroke-width="0.18" dy="3.1">3300014913_21</text>
<text transform="translate(480.1,1030.3) rotate(50.37)" font-size="8.75" font-weight="bold" text-anchor="start" fill="#111" stroke="#111" stroke-width="0.18" dy="3.1">GCA_027492015.1</text>
<text transform="translate(490.3,1021.3) rotate(46.34)" font-size="8.75" font-weight="bold" text-anchor="start" fill="#e8232b" stroke="#e8232b" stroke-width="0.18" dy="3.1">Guay2_bin.66</text>
<text transform="translate(499.7,1011.7) rotate(42.31)" font-size="8.75" font-weight="bold" text-anchor="start" fill="#111" stroke="#111" stroke-width="0.18" dy="3.1">GCA_003661385.1</text>
<text transform="translate(508.4,1001.3) rotate(38.28)" font-size="8.75" font-weight="bold" text-anchor="start" fill="#111" stroke="#111" stroke-width="0.18" dy="3.1">GCA_027491775.1</text>
<text transform="translate(516.4,990.4) rotate(34.25)" font-size="8.75" font-weight="bold" text-anchor="start" fill="#111" stroke="#111" stroke-width="0.18" dy="3.1">GCA_027491625.1</text>
<text transform="translate(523.7,979.0) rotate(30.22)" font-size="8.75" font-weight="bold" text-anchor="start" fill="#111" stroke="#111" stroke-width="0.18" dy="3.1">GCA_027492035.1</text>
<text transform="translate(530.1,967.1) rotate(26.19)" font-size="8.75" font-weight="bold" text-anchor="start" fill="#111" stroke="#111" stroke-width="0.18" dy="3.1">GCA_027492105.1</text>
<text transform="translate(535.6,954.7) rotate(22.16)" font-size="8.75" font-weight="bold" text-anchor="start" fill="#111" stroke="#111" stroke-width="0.18" dy="3.1">GCA_027491455.1</text>
<text transform="translate(540.2,942.1) rotate(18.13)" font-size="8.75" font-weight="bold" text-anchor="start" fill="#d8281e" stroke="#d8281e" stroke-width="0.18" dy="3.1">GB192_bin.217</text>
<text transform="translate(556.7,889.2) rotate(2.01)" font-size="10.3" font-weight="bold" font-style="italic" fill="#111" dy="3.6">Halobacteriota</text>
<text transform="translate(555.7,903.2) rotate(6.04)" font-size="10.3" font-weight="bold" font-style="italic" fill="#111" dy="3.6">Bathyarchaeia</text>
<text transform="translate(553.7,917.1) rotate(10.07)" font-size="10.3" font-weight="bold" fill="#111" dy="3.6">DRAE01</text>
<text transform="translate(550.8,930.8) rotate(14.10)" font-size="10.3" font-weight="bold" fill="#111" dy="3.6">JANJXX01</text>
<rect transform="translate(351.1,699.0) rotate(268.0)" x="-2.3" y="-2.3" width="4.6" height="4.6" fill="#2e839b"/>
<rect transform="translate(338.2,699.9) rotate(264.0)" x="-2.3" y="-2.3" width="4.6" height="4.6" fill="#2e839b"/>
<rect transform="translate(325.4,701.7) rotate(259.9)" x="-2.3" y="-2.3" width="4.6" height="4.6" fill="#2e839b"/>
<rect transform="translate(312.8,704.4) rotate(255.9)" x="-2.3" y="-2.3" width="4.6" height="4.6" fill="#2e839b"/>
<rect transform="translate(300.4,708.0) rotate(251.9)" x="-2.3" y="-2.3" width="4.6" height="4.6" fill="#2e839b"/>
<rect transform="translate(288.3,712.4) rotate(247.8)" x="-2.3" y="-2.3" width="4.6" height="4.6" fill="#2e839b"/>
<rect transform="translate(276.6,717.7) rotate(243.8)" x="-2.3" y="-2.3" width="4.6" height="4.6" fill="#2e839b"/>
<rect transform="translate(265.2,723.8) rotate(239.8)" x="-2.3" y="-2.3" width="4.6" height="4.6" fill="#2e839b"/>
<rect transform="translate(254.3,730.7) rotate(235.7)" x="-2.3" y="-2.3" width="4.6" height="4.6" fill="#2e839b"/>
<rect transform="translate(243.9,738.3) rotate(231.7)" x="-2.3" y="-2.3" width="4.6" height="4.6" fill="#2e839b"/>
<rect transform="translate(234.1,746.7) rotate(227.7)" x="-2.3" y="-2.3" width="4.6" height="4.6" fill="#2e839b"/>
<rect transform="translate(224.9,755.7) rotate(223.7)" x="-2.3" y="-2.3" width="4.6" height="4.6" fill="#2e839b"/>
<rect transform="translate(216.3,765.3) rotate(219.6)" x="-2.3" y="-2.3" width="4.6" height="4.6" fill="#2e839b"/>
<rect transform="translate(208.5,775.5) rotate(215.6)" x="-2.3" y="-2.3" width="4.6" height="4.6" fill="#2e839b"/>
<rect transform="translate(201.3,786.2) rotate(211.6)" x="-2.3" y="-2.3" width="4.6" height="4.6" fill="#2e839b"/>
<rect transform="translate(195.0,797.5) rotate(207.5)" x="-2.3" y="-2.3" width="4.6" height="4.6" fill="#2e839b"/>
<rect transform="translate(189.4,809.1) rotate(203.5)" x="-2.3" y="-2.3" width="4.6" height="4.6" fill="#2e839b"/>
<rect transform="translate(184.7,821.1) rotate(199.5)" x="-2.3" y="-2.3" width="4.6" height="4.6" fill="#2e839b"/>
<rect transform="translate(180.8,833.4) rotate(195.4)" x="-2.3" y="-2.3" width="4.6" height="4.6" fill="#2e839b"/>
<rect transform="translate(177.8,845.9) rotate(191.4)" x="-2.3" y="-2.3" width="4.6" height="4.6" fill="#2e839b"/>
<rect transform="translate(175.7,858.6) rotate(187.4)" x="-2.3" y="-2.3" width="4.6" height="4.6" fill="#2e839b"/>
<rect transform="translate(174.5,871.5) rotate(183.4)" x="-2.3" y="-2.3" width="4.6" height="4.6" fill="#2e839b"/>
<polygon transform="translate(174.2,884.3) rotate(179.3)" points="0,-3.7 -3.3,2.2 3.3,2.2" fill="#7a9a3c"/>
<polygon transform="translate(174.8,897.2) rotate(175.3)" points="0,-3.7 -3.3,2.2 3.3,2.2" fill="#7a9a3c"/>
<polygon transform="translate(176.3,910.0) rotate(171.3)" points="0,-3.7 -3.3,2.2 3.3,2.2" fill="#7a9a3c"/>
<polygon transform="translate(178.7,922.7) rotate(167.2)" points="0,-3.7 -3.3,2.2 3.3,2.2" fill="#7a9a3c"/>
<polygon transform="translate(182.0,935.2) rotate(163.2)" points="0,-3.7 -3.3,2.2 3.3,2.2" fill="#7a9a3c"/>
<polygon transform="translate(186.2,947.4) rotate(159.2)" points="0,-3.7 -3.3,2.2 3.3,2.2" fill="#7a9a3c"/>
<polygon transform="translate(191.2,959.2) rotate(155.1)" points="0,-3.7 -3.3,2.2 3.3,2.2" fill="#7a9a3c"/>
<polygon transform="translate(197.0,970.7) rotate(151.1)" points="0,-3.7 -3.3,2.2 3.3,2.2" fill="#7a9a3c"/>
<polygon transform="translate(203.6,981.8) rotate(147.1)" points="0,-3.7 -3.3,2.2 3.3,2.2" fill="#7a9a3c"/>
<polygon transform="translate(211.0,992.4) rotate(143.1)" points="0,-3.7 -3.3,2.2 3.3,2.2" fill="#7a9a3c"/>
<polygon transform="translate(219.1,1002.4) rotate(139.0)" points="0,-3.7 -3.3,2.2 3.3,2.2" fill="#7a9a3c"/>
<rect transform="translate(227.9,1011.8) rotate(135.0)" x="-2.3" y="-2.3" width="4.6" height="4.6" fill="#2e839b"/>
<polygon transform="translate(237.3,1020.6) rotate(131.0)" points="0,-3.7 -3.3,2.2 3.3,2.2" fill="#7a9a3c"/>
<polygon transform="translate(247.3,1028.7) rotate(126.9)" points="0,-3.7 -3.3,2.2 3.3,2.2" fill="#7a9a3c"/>
<polygon transform="translate(257.9,1036.1) rotate(122.9)" points="0,-3.7 -3.3,2.2 3.3,2.2" fill="#7a9a3c"/>
<polygon transform="translate(269.0,1042.7) rotate(118.9)" points="0,-3.7 -3.3,2.2 3.3,2.2" fill="#7a9a3c"/>
<polygon transform="translate(280.5,1048.5) rotate(114.9)" points="0,-3.7 -3.3,2.2 3.3,2.2" fill="#7a9a3c"/>
<rect transform="translate(292.3,1053.5) rotate(110.8)" x="-2.3" y="-2.3" width="4.6" height="4.6" fill="#2e839b"/>
<rect transform="translate(304.5,1057.7) rotate(106.8)" x="-2.3" y="-2.3" width="4.6" height="4.6" fill="#2e839b"/>
<rect transform="translate(317.0,1061.0) rotate(102.8)" x="-2.3" y="-2.3" width="4.6" height="4.6" fill="#2e839b"/>
<rect transform="translate(329.7,1063.4) rotate(98.7)" x="-2.3" y="-2.3" width="4.6" height="4.6" fill="#2e839b"/>
<rect transform="translate(342.5,1064.9) rotate(94.7)" x="-2.3" y="-2.3" width="4.6" height="4.6" fill="#2e839b"/>
<rect transform="translate(355.4,1065.5) rotate(90.7)" x="-2.3" y="-2.3" width="4.6" height="4.6" fill="#2e839b"/>
<rect transform="translate(368.2,1065.2) rotate(86.6)" x="-2.3" y="-2.3" width="4.6" height="4.6" fill="#2e839b"/>
<rect transform="translate(381.1,1064.0) rotate(82.6)" x="-2.3" y="-2.3" width="4.6" height="4.6" fill="#2e839b"/>
<rect transform="translate(393.8,1061.9) rotate(78.6)" x="-2.3" y="-2.3" width="4.6" height="4.6" fill="#2e839b"/>
<rect transform="translate(406.3,1058.9) rotate(74.6)" x="-2.3" y="-2.3" width="4.6" height="4.6" fill="#2e839b"/>
<rect transform="translate(418.6,1055.0) rotate(70.5)" x="-2.3" y="-2.3" width="4.6" height="4.6" fill="#2e839b"/>
<rect transform="translate(430.6,1050.3) rotate(66.5)" x="-2.3" y="-2.3" width="4.6" height="4.6" fill="#2e839b"/>
<rect transform="translate(442.2,1044.7) rotate(62.5)" x="-2.3" y="-2.3" width="4.6" height="4.6" fill="#2e839b"/>
<rect transform="translate(453.5,1038.4) rotate(58.4)" x="-2.3" y="-2.3" width="4.6" height="4.6" fill="#2e839b"/>
<rect transform="translate(464.2,1031.2) rotate(54.4)" x="-2.3" y="-2.3" width="4.6" height="4.6" fill="#2e839b"/>
<rect transform="translate(474.4,1023.4) rotate(50.4)" x="-2.3" y="-2.3" width="4.6" height="4.6" fill="#2e839b"/>
<rect transform="translate(484.0,1014.8) rotate(46.3)" x="-2.3" y="-2.3" width="4.6" height="4.6" fill="#2e839b"/>
<rect transform="translate(493.0,1005.6) rotate(42.3)" x="-2.3" y="-2.3" width="4.6" height="4.6" fill="#2e839b"/>
<rect transform="translate(501.4,995.8) rotate(38.3)" x="-2.3" y="-2.3" width="4.6" height="4.6" fill="#2e839b"/>
<rect transform="translate(509.0,985.4) rotate(34.3)" x="-2.3" y="-2.3" width="4.6" height="4.6" fill="#2e839b"/>
<rect transform="translate(515.9,974.5) rotate(30.2)" x="-2.3" y="-2.3" width="4.6" height="4.6" fill="#2e839b"/>
<rect transform="translate(522.0,963.1) rotate(26.2)" x="-2.3" y="-2.3" width="4.6" height="4.6" fill="#2e839b"/>
<rect transform="translate(527.3,951.4) rotate(22.2)" x="-2.3" y="-2.3" width="4.6" height="4.6" fill="#2e839b"/>
<rect transform="translate(531.7,939.3) rotate(18.1)" x="-2.3" y="-2.3" width="4.6" height="4.6" fill="#2e839b"/>
<circle cx="347.3" cy="593.6" r="6.1" fill="#c9c9c9"/><path d="M347.3,593.6L341.25,593.79A6.1,6.1 0 1 1 341.32,594.56Z" fill="#bd7fc4" stroke="#ececec" stroke-width="0.45" stroke-linejoin="round"/>
<circle cx="346.8" cy="577.2" r="6.1" fill="#c6c6c6"/><path d="M346.8,577.2L340.67,577.40A6.1,6.1 0 0 1 346.55,571.09Z" fill="#7fb2dc" stroke="#ececec" stroke-width="0.45" stroke-linejoin="round"/>
<circle cx="327.1" cy="595.0" r="6.1" fill="#c9c9c9"/><path d="M327.1,595.0L321.02,595.65A6.1,6.1 0 1 1 321.25,596.77Z" fill="#bd7fc4" stroke="#ececec" stroke-width="0.45" stroke-linejoin="round"/>
<circle cx="325.4" cy="578.7" r="6.1" fill="#c6c6c6"/><path d="M325.4,578.7L319.29,579.34A6.1,6.1 0 0 1 321.28,574.17Z" fill="#7fb2dc" stroke="#ececec" stroke-width="0.45" stroke-linejoin="round"/>
<circle cx="307.0" cy="597.9" r="6.1" fill="#c9c9c9"/><path d="M307.0,597.9L300.97,598.92A6.1,6.1 0 1 1 301.43,600.38Z" fill="#bd7fc4" stroke="#ececec" stroke-width="0.45" stroke-linejoin="round"/>
<circle cx="304.1" cy="581.7" r="6.1" fill="#c6c6c6"/><path d="M304.1,581.7L298.11,582.77A6.1,6.1 0 0 1 304.95,575.66Z" fill="#7fb2dc" stroke="#ececec" stroke-width="0.45" stroke-linejoin="round"/>
<circle cx="287.1" cy="602.1" r="6.1" fill="#c9c9c9"/><path d="M287.1,602.1L281.21,603.59A6.1,6.1 0 1 1 282.40,605.97Z" fill="#bd7fc4" stroke="#ececec" stroke-width="0.45" stroke-linejoin="round"/>
<circle cx="283.1" cy="586.2" r="6.1" fill="#c6c6c6"/><path d="M283.1,586.2L277.21,587.69A6.1,6.1 0 0 1 279.88,581.03Z" fill="#7fb2dc" stroke="#ececec" stroke-width="0.45" stroke-linejoin="round"/>
<circle cx="267.6" cy="607.7" r="6.1" fill="#c9c9c9"/><path d="M267.6,607.7L261.82,609.64A6.1,6.1 0 1 1 262.27,610.70Z" fill="#bd7fc4" stroke="#ececec" stroke-width="0.45" stroke-linejoin="round"/>
<circle cx="262.5" cy="592.2" r="6.1" fill="#c6c6c6"/><path d="M262.5,592.2L256.71,594.06A6.1,6.1 0 0 1 256.46,592.94Z" fill="#7fb2dc" stroke="#ececec" stroke-width="0.45" stroke-linejoin="round"/>
<circle cx="248.5" cy="614.7" r="6.1" fill="#c9c9c9"/><path d="M248.5,614.7L242.90,617.04A6.1,6.1 0 1 1 243.65,618.37Z" fill="#bd7fc4" stroke="#ececec" stroke-width="0.45" stroke-linejoin="round"/>
<circle cx="242.4" cy="599.6" r="6.1" fill="#c6c6c6"/><path d="M242.4,599.6L236.71,601.85A6.1,6.1 0 0 1 236.30,598.85Z" fill="#7fb2dc" stroke="#ececec" stroke-width="0.45" stroke-linejoin="round"/>
<circle cx="230.0" cy="623.1" r="6.1" fill="#c9c9c9"/><path d="M230.0,623.1L224.55,625.75A6.1,6.1 0 1 1 226.21,627.83Z" fill="#bd7fc4" stroke="#ececec" stroke-width="0.45" stroke-linejoin="round"/>
<circle cx="222.8" cy="608.3" r="6.1" fill="#c6c6c6"/><path d="M222.8,608.3L217.31,611.04A6.1,6.1 0 0 1 216.95,606.56Z" fill="#7fb2dc" stroke="#ececec" stroke-width="0.45" stroke-linejoin="round"/>
<circle cx="212.1" cy="632.7" r="6.1" fill="#c9c9c9"/><path d="M212.1,632.7L206.85,635.73A6.1,6.1 0 1 1 209.66,638.24Z" fill="#bd7fc4" stroke="#ececec" stroke-width="0.45" stroke-linejoin="round"/>
<circle cx="203.9" cy="618.5" r="6.1" fill="#c6c6c6"/><path d="M203.9,618.5L198.60,621.56A6.1,6.1 0 0 1 197.91,619.78Z" fill="#7fb2dc" stroke="#ececec" stroke-width="0.45" stroke-linejoin="round"/>
<circle cx="194.9" cy="643.5" r="6.1" fill="#c9c9c9"/><path d="M194.9,643.5L189.90,646.92A6.1,6.1 0 1 1 194.76,649.59Z" fill="#bd7fc4" stroke="#ececec" stroke-width="0.45" stroke-linejoin="round"/>
<circle cx="185.7" cy="629.9" r="6.1" fill="#c6c6c6"/><path d="M185.7,629.9L180.67,633.37A6.1,6.1 0 0 1 179.76,631.27Z" fill="#7fb2dc" stroke="#ececec" stroke-width="0.45" stroke-linejoin="round"/>
<circle cx="178.6" cy="655.5" r="6.1" fill="#c9c9c9"/><path d="M178.6,655.5L173.78,659.28A6.1,6.1 0 1 1 175.85,660.96Z" fill="#bd7fc4" stroke="#ececec" stroke-width="0.45" stroke-linejoin="round"/>
<circle cx="168.4" cy="642.6" r="6.1" fill="#c6c6c6"/><path d="M168.4,642.6L163.62,646.41A6.1,6.1 0 0 1 163.00,645.45Z" fill="#7fb2dc" stroke="#ececec" stroke-width="0.45" stroke-linejoin="round"/>
<circle cx="163.1" cy="668.6" r="6.1" fill="#c9c9c9"/><path d="M163.1,668.6L158.57,672.75A6.1,6.1 0 1 1 161.85,674.61Z" fill="#bd7fc4" stroke="#ececec" stroke-width="0.45" stroke-linejoin="round"/>
<circle cx="152.0" cy="656.5" r="6.1" fill="#c6c6c6"/><path d="M152.0,656.5L147.53,660.62A6.1,6.1 0 0 1 145.94,656.42Z" fill="#7fb2dc" stroke="#ececec" stroke-width="0.45" stroke-linejoin="round"/>
<circle cx="148.6" cy="682.8" r="6.1" fill="#c9c9c9"/><path d="M148.6,682.8L144.35,687.24A6.1,6.1 0 1 1 147.74,688.88Z" fill="#bd7fc4" stroke="#ececec" stroke-width="0.45" stroke-linejoin="round"/>
<circle cx="136.7" cy="671.5" r="6.1" fill="#c6c6c6"/><path d="M136.7,671.5L132.48,675.92A6.1,6.1 0 0 1 133.80,666.14Z" fill="#7fb2dc" stroke="#ececec" stroke-width="0.45" stroke-linejoin="round"/>
<circle cx="135.1" cy="698.0" r="6.1" fill="#c9c9c9"/><path d="M135.1,698.0L131.17,702.71A6.1,6.1 0 1 1 133.54,703.92Z" fill="#bd7fc4" stroke="#ececec" stroke-width="0.45" stroke-linejoin="round"/>
<circle cx="122.4" cy="687.5" r="6.1" fill="#c6c6c6"/><path d="M122.4,687.5L118.54,692.25A6.1,6.1 0 1 1 123.94,693.46Z" fill="#7fb2dc" stroke="#ececec" stroke-width="0.45" stroke-linejoin="round"/>
<circle cx="122.7" cy="714.1" r="6.1" fill="#c9c9c9"/><path d="M122.7,714.1L119.12,719.06A6.1,6.1 0 1 1 122.71,720.19Z" fill="#bd7fc4" stroke="#ececec" stroke-width="0.45" stroke-linejoin="round"/>
<circle cx="109.3" cy="704.5" r="6.1" fill="#c6c6c6"/><path d="M109.3,704.5L105.78,709.51A6.1,6.1 0 0 1 105.19,709.02Z" fill="#7fb2dc" stroke="#ececec" stroke-width="0.45" stroke-linejoin="round"/>
<circle cx="111.4" cy="731.0" r="6.1" fill="#c9c9c9"/><path d="M111.4,731.0L108.24,736.21A6.1,6.1 0 1 1 109.63,736.84Z" fill="#bd7fc4" stroke="#ececec" stroke-width="0.45" stroke-linejoin="round"/>
<circle cx="97.5" cy="722.4" r="6.1" fill="#c6c6c6"/><path d="M97.5,722.4L94.27,727.63A6.1,6.1 0 0 1 98.89,716.50Z" fill="#7fb2dc" stroke="#ececec" stroke-width="0.45" stroke-linejoin="round"/>
<circle cx="101.4" cy="748.7" r="6.1" fill="#c9c9c9"/><path d="M101.4,748.7L98.60,754.09A6.1,6.1 0 1 1 101.17,754.78Z" fill="#bd7fc4" stroke="#ececec" stroke-width="0.45" stroke-linejoin="round"/>
<circle cx="86.9" cy="741.1" r="6.1" fill="#c6c6c6"/><path d="M86.9,741.1L84.06,746.51A6.1,6.1 0 1 1 91.15,745.45Z" fill="#7fb2dc" stroke="#ececec" stroke-width="0.45" stroke-linejoin="round"/>
<circle cx="92.7" cy="767.0" r="6.1" fill="#c9c9c9"/><path d="M92.7,767.0L90.23,772.60A6.1,6.1 0 1 1 93.99,772.96Z" fill="#bd7fc4" stroke="#ececec" stroke-width="0.45" stroke-linejoin="round"/>
<circle cx="77.6" cy="760.5" r="6.1" fill="#c6c6c6"/><path d="M77.6,760.5L75.20,766.06A6.1,6.1 0 0 1 72.37,763.56Z" fill="#7fb2dc" stroke="#ececec" stroke-width="0.45" stroke-linejoin="round"/>
<circle cx="85.2" cy="785.9" r="6.1" fill="#c9c9c9"/><path d="M85.2,785.9L83.19,791.65A6.1,6.1 0 1 1 84.69,791.98Z" fill="#bd7fc4" stroke="#ececec" stroke-width="0.45" stroke-linejoin="round"/>
<circle cx="69.8" cy="780.4" r="6.1" fill="#c6c6c6"/><path d="M69.8,780.4L67.73,786.19A6.1,6.1 0 0 1 66.69,785.70Z" fill="#7fb2dc" stroke="#ececec" stroke-width="0.45" stroke-linejoin="round"/>
<circle cx="79.1" cy="805.3" r="6.1" fill="#c9c9c9"/><path d="M79.1,805.3L77.51,811.15A6.1,6.1 0 1 1 78.26,811.31Z" fill="#bd7fc4" stroke="#ececec" stroke-width="0.45" stroke-linejoin="round"/>
<circle cx="63.3" cy="800.9" r="6.1" fill="#c6c6c6"/><path d="M63.3,800.9L61.70,806.79A6.1,6.1 0 0 1 60.98,806.54Z" fill="#7fb2dc" stroke="#ececec" stroke-width="0.45" stroke-linejoin="round"/>
<circle cx="74.4" cy="825.0" r="6.1" fill="#c9c9c9"/><path d="M74.4,825.0L73.21,831.01A6.1,6.1 0 1 1 74.35,831.13Z" fill="#bd7fc4" stroke="#ececec" stroke-width="0.45" stroke-linejoin="round"/>
<circle cx="58.3" cy="821.8" r="6.1" fill="#c6c6c6"/><path d="M58.3,821.8L57.13,827.76A6.1,6.1 0 1 1 62.83,817.65Z" fill="#7fb2dc" stroke="#ececec" stroke-width="0.45" stroke-linejoin="round"/>
<circle cx="71.1" cy="845.1" r="6.1" fill="#c9c9c9"/><path d="M71.1,845.1L70.31,851.11A6.1,6.1 0 1 1 71.84,851.12Z" fill="#bd7fc4" stroke="#ececec" stroke-width="0.45" stroke-linejoin="round"/>
<circle cx="54.8" cy="843.0" r="6.1" fill="#c6c6c6"/><path d="M54.8,843.0L54.05,849.00A6.1,6.1 0 0 1 53.71,836.96Z" fill="#7fb2dc" stroke="#ececec" stroke-width="0.45" stroke-linejoin="round"/>
<circle cx="69.2" cy="865.3" r="6.1" fill="#c9c9c9"/><path d="M69.2,865.3L68.84,871.37A6.1,6.1 0 1 1 71.47,870.94Z" fill="#bd7fc4" stroke="#ececec" stroke-width="0.45" stroke-linejoin="round"/>
<circle cx="52.8" cy="864.3" r="6.1" fill="#c6c6c6"/><path d="M52.8,864.3L52.47,870.41A6.1,6.1 0 0 1 46.92,865.86Z" fill="#7fb2dc" stroke="#ececec" stroke-width="0.45" stroke-linejoin="round"/>
<circle cx="68.7" cy="885.6" r="6.1" fill="#c9c9c9"/><path d="M68.7,885.6L68.79,891.68A6.1,6.1 0 1 1 72.36,890.48Z" fill="#bd7fc4" stroke="#ececec" stroke-width="0.45" stroke-linejoin="round"/>
<circle cx="52.3" cy="885.8" r="6.1" fill="#c6c6c6"/><path d="M52.3,885.8L52.39,891.88A6.1,6.1 0 0 1 51.63,891.84Z" fill="#7fb2dc" stroke="#ececec" stroke-width="0.45" stroke-linejoin="round"/>
<circle cx="69.7" cy="905.9" r="6.1" fill="#c9c9c9"/><path d="M69.7,905.9L70.17,911.95A6.1,6.1 0 1 1 71.67,911.64Z" fill="#bd7fc4" stroke="#ececec" stroke-width="0.45" stroke-linejoin="round"/>
<circle cx="53.3" cy="907.2" r="6.1" fill="#c6c6c6"/><path d="M53.3,907.2L53.83,913.30A6.1,6.1 0 0 1 49.53,911.99Z" fill="#7fb2dc" stroke="#ececec" stroke-width="0.45" stroke-linejoin="round"/>
<circle cx="72.0" cy="926.0" r="6.1" fill="#c9c9c9"/><path d="M72.0,926.0L72.97,932.07A6.1,6.1 0 1 1 75.45,931.10Z" fill="#bd7fc4" stroke="#ececec" stroke-width="0.45" stroke-linejoin="round"/>
<circle cx="55.8" cy="928.5" r="6.1" fill="#c6c6c6"/><path d="M55.8,928.5L56.76,934.56A6.1,6.1 0 0 1 51.50,932.82Z" fill="#7fb2dc" stroke="#ececec" stroke-width="0.45" stroke-linejoin="round"/>
<circle cx="75.8" cy="946.0" r="6.1" fill="#c9c9c9"/><path d="M75.8,946.0L77.18,951.94A6.1,6.1 0 1 1 80.89,949.41Z" fill="#bd7fc4" stroke="#ececec" stroke-width="0.45" stroke-linejoin="round"/>
<circle cx="59.8" cy="949.6" r="6.1" fill="#c6c6c6"/><path d="M59.8,949.6L61.19,955.56A6.1,6.1 0 0 1 56.75,954.87Z" fill="#7fb2dc" stroke="#ececec" stroke-width="0.45" stroke-linejoin="round"/>
<circle cx="81.0" cy="965.6" r="6.1" fill="#c9c9c9"/><path d="M81.0,965.6L82.78,971.47A6.1,6.1 0 1 1 84.17,970.85Z" fill="#bd7fc4" stroke="#ececec" stroke-width="0.45" stroke-linejoin="round"/>
<circle cx="65.3" cy="970.4" r="6.1" fill="#c6c6c6"/><path d="M65.3,970.4L67.07,976.21A6.1,6.1 0 0 1 65.95,976.43Z" fill="#7fb2dc" stroke="#ececec" stroke-width="0.45" stroke-linejoin="round"/>
<circle cx="87.6" cy="984.9" r="6.1" fill="#c9c9c9"/><path d="M87.6,984.9L89.73,990.55A6.1,6.1 0 1 1 91.95,989.09Z" fill="#bd7fc4" stroke="#ececec" stroke-width="0.45" stroke-linejoin="round"/>
<circle cx="72.2" cy="990.7" r="6.1" fill="#c6c6c6"/><path d="M72.2,990.7L74.40,996.38A6.1,6.1 0 0 1 73.29,996.69Z" fill="#7fb2dc" stroke="#ececec" stroke-width="0.45" stroke-linejoin="round"/>
<circle cx="95.4" cy="1003.6" r="6.1" fill="#c9c9c9"/><path d="M95.4,1003.6L98.00,1009.11A6.1,6.1 0 1 1 100.77,1006.54Z" fill="#bd7fc4" stroke="#ececec" stroke-width="0.45" stroke-linejoin="round"/>
<circle cx="80.6" cy="1010.5" r="6.1" fill="#c6c6c6"/>
<circle cx="104.6" cy="1021.7" r="6.1" fill="#c9c9c9"/><path d="M104.6,1021.7L107.56,1027.03A6.1,6.1 0 1 1 108.80,1026.13Z" fill="#bd7fc4" stroke="#ececec" stroke-width="0.45" stroke-linejoin="round"/>
<circle cx="90.3" cy="1029.6" r="6.1" fill="#c6c6c6"/><path d="M90.3,1029.6L93.20,1034.95A6.1,6.1 0 0 1 92.15,1035.41Z" fill="#7fb2dc" stroke="#ececec" stroke-width="0.45" stroke-linejoin="round"/>
<circle cx="115.0" cy="1039.1" r="6.1" fill="#c9c9c9"/><path d="M115.0,1039.1L118.36,1044.23A6.1,6.1 0 1 1 120.23,1042.34Z" fill="#bd7fc4" stroke="#ececec" stroke-width="0.45" stroke-linejoin="round"/>
<circle cx="101.3" cy="1048.0" r="6.1" fill="#c6c6c6"/><path d="M101.3,1048.0L104.59,1053.14A6.1,6.1 0 0 1 99.08,1053.71Z" fill="#7fb2dc" stroke="#ececec" stroke-width="0.45" stroke-linejoin="round"/>
<circle cx="126.7" cy="1055.8" r="6.1" fill="#c9c9c9"/><path d="M126.7,1055.8L130.34,1060.64A6.1,6.1 0 1 1 132.50,1057.55Z" fill="#bd7fc4" stroke="#ececec" stroke-width="0.45" stroke-linejoin="round"/>
<circle cx="113.6" cy="1065.6" r="6.1" fill="#c6c6c6"/><path d="M113.6,1065.6L117.23,1070.50A6.1,6.1 0 0 1 110.06,1070.61Z" fill="#7fb2dc" stroke="#ececec" stroke-width="0.45" stroke-linejoin="round"/>
<circle cx="139.4" cy="1071.6" r="6.1" fill="#c9c9c9"/><path d="M139.4,1071.6L143.44,1076.16A6.1,6.1 0 1 1 144.46,1075.02Z" fill="#bd7fc4" stroke="#ececec" stroke-width="0.45" stroke-linejoin="round"/>
<circle cx="127.1" cy="1082.3" r="6.1" fill="#c6c6c6"/>
<circle cx="153.3" cy="1086.4" r="6.1" fill="#c9c9c9"/><path d="M153.3,1086.4L157.60,1090.73A6.1,6.1 0 1 1 159.03,1088.48Z" fill="#bd7fc4" stroke="#ececec" stroke-width="0.45" stroke-linejoin="round"/>
<circle cx="141.7" cy="1098.0" r="6.1" fill="#c6c6c6"/><path d="M141.7,1098.0L146.00,1102.32A6.1,6.1 0 0 1 137.38,1102.32Z" fill="#7fb2dc" stroke="#ececec" stroke-width="0.45" stroke-linejoin="round"/>
<circle cx="168.1" cy="1100.3" r="6.1" fill="#c9c9c9"/><path d="M168.1,1100.3L172.75,1104.26A6.1,6.1 0 1 1 174.22,1100.79Z" fill="#bd7fc4" stroke="#ececec" stroke-width="0.45" stroke-linejoin="round"/>
<circle cx="157.4" cy="1112.6" r="6.1" fill="#c6c6c6"/><path d="M157.4,1112.6L162.00,1116.64A6.1,6.1 0 0 1 160.54,1117.87Z" fill="#7fb2dc" stroke="#ececec" stroke-width="0.45" stroke-linejoin="round"/>
<circle cx="183.9" cy="1113.0" r="6.1" fill="#c9c9c9"/><path d="M183.9,1113.0L188.81,1116.69A6.1,6.1 0 1 1 189.57,1115.37Z" fill="#bd7fc4" stroke="#ececec" stroke-width="0.45" stroke-linejoin="round"/>
<circle cx="174.1" cy="1126.1" r="6.1" fill="#c6c6c6"/><path d="M174.1,1126.1L178.96,1129.80A6.1,6.1 0 0 1 176.59,1131.70Z" fill="#7fb2dc" stroke="#ececec" stroke-width="0.45" stroke-linejoin="round"/>
<circle cx="200.6" cy="1124.7" r="6.1" fill="#c9c9c9"/><path d="M200.6,1124.7L205.71,1127.97A6.1,6.1 0 1 1 206.63,1125.47Z" fill="#bd7fc4" stroke="#ececec" stroke-width="0.45" stroke-linejoin="round"/>
<circle cx="191.7" cy="1138.4" r="6.1" fill="#c6c6c6"/><path d="M191.7,1138.4L196.80,1141.74A6.1,6.1 0 0 1 193.87,1144.11Z" fill="#7fb2dc" stroke="#ececec" stroke-width="0.45" stroke-linejoin="round"/>
<circle cx="218.0" cy="1135.1" r="6.1" fill="#c9c9c9"/><path d="M218.0,1135.1L223.36,1138.03A6.1,6.1 0 1 1 224.07,1134.33Z" fill="#bd7fc4" stroke="#ececec" stroke-width="0.45" stroke-linejoin="round"/>
<circle cx="210.1" cy="1149.4" r="6.1" fill="#c6c6c6"/><path d="M210.1,1149.4L215.43,1152.39A6.1,6.1 0 0 1 212.68,1154.96Z" fill="#7fb2dc" stroke="#ececec" stroke-width="0.45" stroke-linejoin="round"/>
<circle cx="236.1" cy="1144.3" r="6.1" fill="#c9c9c9"/><path d="M236.1,1144.3L241.67,1146.82A6.1,6.1 0 1 1 242.11,1143.08Z" fill="#bd7fc4" stroke="#ececec" stroke-width="0.45" stroke-linejoin="round"/>
<circle cx="229.2" cy="1159.1" r="6.1" fill="#c6c6c6"/><path d="M229.2,1159.1L234.77,1161.70A6.1,6.1 0 0 1 230.42,1165.13Z" fill="#7fb2dc" stroke="#ececec" stroke-width="0.45" stroke-linejoin="round"/>
<circle cx="254.8" cy="1152.1" r="6.1" fill="#c9c9c9"/><path d="M254.8,1152.1L260.55,1154.31A6.1,6.1 0 1 1 260.73,1150.54Z" fill="#bd7fc4" stroke="#ececec" stroke-width="0.45" stroke-linejoin="round"/>
<circle cx="249.0" cy="1167.5" r="6.1" fill="#c6c6c6"/><path d="M249.0,1167.5L254.72,1169.64A6.1,6.1 0 0 1 252.97,1172.12Z" fill="#7fb2dc" stroke="#ececec" stroke-width="0.45" stroke-linejoin="round"/>
<circle cx="274.1" cy="1158.7" r="6.1" fill="#c9c9c9"/><path d="M274.1,1158.7L279.91,1160.45A6.1,6.1 0 1 1 279.83,1156.68Z" fill="#bd7fc4" stroke="#ececec" stroke-width="0.45" stroke-linejoin="round"/>
<circle cx="269.3" cy="1174.4" r="6.1" fill="#c6c6c6"/><path d="M269.3,1174.4L275.17,1176.15A6.1,6.1 0 0 1 273.02,1179.25Z" fill="#7fb2dc" stroke="#ececec" stroke-width="0.45" stroke-linejoin="round"/>
<circle cx="293.7" cy="1163.9" r="6.1" fill="#c9c9c9"/><path d="M293.7,1163.9L299.66,1165.21A6.1,6.1 0 1 1 299.57,1162.18Z" fill="#bd7fc4" stroke="#ececec" stroke-width="0.45" stroke-linejoin="round"/>
<circle cx="290.1" cy="1179.9" r="6.1" fill="#c6c6c6"/><path d="M290.1,1179.9L296.03,1181.21A6.1,6.1 0 0 1 295.33,1182.98Z" fill="#7fb2dc" stroke="#ececec" stroke-width="0.45" stroke-linejoin="round"/>
<circle cx="313.7" cy="1167.7" r="6.1" fill="#c9c9c9"/><path d="M313.7,1167.7L319.69,1168.58A6.1,6.1 0 1 1 319.76,1167.43Z" fill="#bd7fc4" stroke="#ececec" stroke-width="0.45" stroke-linejoin="round"/>
<circle cx="311.2" cy="1183.9" r="6.1" fill="#c6c6c6"/><path d="M311.2,1183.9L317.20,1184.79A6.1,6.1 0 0 1 316.23,1187.27Z" fill="#7fb2dc" stroke="#ececec" stroke-width="0.45" stroke-linejoin="round"/>
<circle cx="333.8" cy="1170.0" r="6.1" fill="#c9c9c9"/><path d="M333.8,1170.0L339.91,1170.53A6.1,6.1 0 1 1 339.89,1169.38Z" fill="#bd7fc4" stroke="#ececec" stroke-width="0.45" stroke-linejoin="round"/>
<circle cx="332.5" cy="1186.4" r="6.1" fill="#c6c6c6"/><path d="M332.5,1186.4L338.56,1186.87A6.1,6.1 0 0 1 337.77,1189.41Z" fill="#7fb2dc" stroke="#ececec" stroke-width="0.45" stroke-linejoin="round"/>
<circle cx="354.1" cy="1171.0" r="6.1" fill="#c9c9c9"/><path d="M354.1,1171.0L360.21,1171.05A6.1,6.1 0 1 1 360.12,1169.91Z" fill="#bd7fc4" stroke="#ececec" stroke-width="0.45" stroke-linejoin="round"/>
<circle cx="353.9" cy="1187.4" r="6.1" fill="#c6c6c6"/><path d="M353.9,1187.4L360.02,1187.45A6.1,6.1 0 0 1 358.32,1191.61Z" fill="#7fb2dc" stroke="#ececec" stroke-width="0.45" stroke-linejoin="round"/>
<circle cx="374.4" cy="1170.5" r="6.1" fill="#c9c9c9"/><path d="M374.4,1170.5L380.51,1170.15A6.1,6.1 0 1 1 378.61,1166.08Z" fill="#bd7fc4" stroke="#ececec" stroke-width="0.45" stroke-linejoin="round"/>
<circle cx="375.4" cy="1186.9" r="6.1" fill="#c6c6c6"/><path d="M375.4,1186.9L381.47,1186.52A6.1,6.1 0 0 1 372.09,1192.01Z" fill="#7fb2dc" stroke="#ececec" stroke-width="0.45" stroke-linejoin="round"/>
<circle cx="394.6" cy="1168.6" r="6.1" fill="#c9c9c9"/><path d="M394.6,1168.6L400.69,1167.82A6.1,6.1 0 1 1 399.78,1165.32Z" fill="#bd7fc4" stroke="#ececec" stroke-width="0.45" stroke-linejoin="round"/>
<circle cx="396.7" cy="1184.9" r="6.1" fill="#c6c6c6"/>
<circle cx="414.7" cy="1165.3" r="6.1" fill="#c9c9c9"/><path d="M414.7,1165.3L420.65,1164.08A6.1,6.1 0 1 1 419.33,1161.35Z" fill="#bd7fc4" stroke="#ececec" stroke-width="0.45" stroke-linejoin="round"/>
<circle cx="417.9" cy="1181.4" r="6.1" fill="#c6c6c6"/>
<circle cx="434.4" cy="1160.6" r="6.1" fill="#c9c9c9"/><path d="M434.4,1160.6L440.30,1158.94A6.1,6.1 0 1 1 438.23,1155.80Z" fill="#bd7fc4" stroke="#ececec" stroke-width="0.45" stroke-linejoin="round"/>
<circle cx="438.8" cy="1176.4" r="6.1" fill="#c6c6c6"/><path d="M438.8,1176.4L444.67,1174.75A6.1,6.1 0 0 1 442.16,1181.46Z" fill="#7fb2dc" stroke="#ececec" stroke-width="0.45" stroke-linejoin="round"/>
<circle cx="453.8" cy="1154.5" r="6.1" fill="#c9c9c9"/><path d="M453.8,1154.5L459.55,1152.44A6.1,6.1 0 1 1 457.25,1149.45Z" fill="#bd7fc4" stroke="#ececec" stroke-width="0.45" stroke-linejoin="round"/>
<circle cx="459.3" cy="1169.9" r="6.1" fill="#c6c6c6"/><path d="M459.3,1169.9L465.02,1167.90A6.1,6.1 0 0 1 464.29,1173.39Z" fill="#7fb2dc" stroke="#ececec" stroke-width="0.45" stroke-linejoin="round"/>
<circle cx="472.7" cy="1147.0" r="6.1" fill="#c9c9c9"/><path d="M472.7,1147.0L478.29,1144.60A6.1,6.1 0 1 1 477.51,1143.28Z" fill="#bd7fc4" stroke="#ececec" stroke-width="0.45" stroke-linejoin="round"/>
<circle cx="479.2" cy="1162.1" r="6.1" fill="#c6c6c6"/><path d="M479.2,1162.1L484.83,1159.64A6.1,6.1 0 0 1 477.92,1168.03Z" fill="#7fb2dc" stroke="#ececec" stroke-width="0.45" stroke-linejoin="round"/>
<circle cx="491.0" cy="1138.3" r="6.1" fill="#c9c9c9"/><path d="M491.0,1138.3L496.43,1135.46A6.1,6.1 0 1 1 494.71,1133.43Z" fill="#bd7fc4" stroke="#ececec" stroke-width="0.45" stroke-linejoin="round"/>
<circle cx="498.6" cy="1152.8" r="6.1" fill="#c6c6c6"/><path d="M498.6,1152.8L504.01,1150.00A6.1,6.1 0 0 1 495.88,1158.28Z" fill="#7fb2dc" stroke="#ececec" stroke-width="0.45" stroke-linejoin="round"/>
<circle cx="508.7" cy="1128.3" r="6.1" fill="#c9c9c9"/><path d="M508.7,1128.3L513.88,1125.07A6.1,6.1 0 1 1 507.26,1122.34Z" fill="#bd7fc4" stroke="#ececec" stroke-width="0.45" stroke-linejoin="round"/>
<circle cx="517.3" cy="1142.2" r="6.1" fill="#c6c6c6"/>
<circle cx="525.6" cy="1117.0" r="6.1" fill="#c9c9c9"/><path d="M525.6,1117.0L530.56,1113.48A6.1,6.1 0 1 1 522.05,1112.07Z" fill="#bd7fc4" stroke="#ececec" stroke-width="0.45" stroke-linejoin="round"/>
<circle cx="535.2" cy="1130.4" r="6.1" fill="#c6c6c6"/><path d="M535.2,1130.4L540.11,1126.82A6.1,6.1 0 1 1 535.19,1124.27Z" fill="#7fb2dc" stroke="#ececec" stroke-width="0.45" stroke-linejoin="round"/>
<circle cx="541.7" cy="1104.6" r="6.1" fill="#c9c9c9"/><path d="M541.7,1104.6L546.39,1100.75A6.1,6.1 0 1 1 543.21,1098.73Z" fill="#bd7fc4" stroke="#ececec" stroke-width="0.45" stroke-linejoin="round"/>
<circle cx="552.2" cy="1117.3" r="6.1" fill="#c6c6c6"/><path d="M552.2,1117.3L556.85,1113.38A6.1,6.1 0 0 1 547.45,1121.16Z" fill="#7fb2dc" stroke="#ececec" stroke-width="0.45" stroke-linejoin="round"/>
<circle cx="556.9" cy="1091.1" r="6.1" fill="#c9c9c9"/><path d="M556.9,1091.1L561.28,1086.93A6.1,6.1 0 1 1 559.77,1085.77Z" fill="#bd7fc4" stroke="#ececec" stroke-width="0.45" stroke-linejoin="round"/>
<circle cx="568.2" cy="1103.0" r="6.1" fill="#c6c6c6"/><path d="M568.2,1103.0L572.60,1098.80A6.1,6.1 0 0 1 573.88,1105.21Z" fill="#7fb2dc" stroke="#ececec" stroke-width="0.45" stroke-linejoin="round"/>
<circle cx="571.1" cy="1076.6" r="6.1" fill="#c9c9c9"/><path d="M571.1,1076.6L575.17,1072.11A6.1,6.1 0 1 1 573.92,1071.23Z" fill="#bd7fc4" stroke="#ececec" stroke-width="0.45" stroke-linejoin="round"/>
<circle cx="583.2" cy="1087.7" r="6.1" fill="#c6c6c6"/><path d="M583.2,1087.7L587.29,1083.15A6.1,6.1 0 0 1 589.27,1087.18Z" fill="#7fb2dc" stroke="#ececec" stroke-width="0.45" stroke-linejoin="round"/>
<circle cx="584.2" cy="1061.1" r="6.1" fill="#c9c9c9"/><path d="M584.2,1061.1L587.97,1056.34A6.1,6.1 0 1 1 585.58,1055.19Z" fill="#bd7fc4" stroke="#ececec" stroke-width="0.45" stroke-linejoin="round"/>
<circle cx="597.1" cy="1071.3" r="6.1" fill="#c6c6c6"/><path d="M597.1,1071.3L600.85,1066.50A6.1,6.1 0 0 1 602.94,1069.64Z" fill="#7fb2dc" stroke="#ececec" stroke-width="0.45" stroke-linejoin="round"/>
<circle cx="596.2" cy="1044.8" r="6.1" fill="#c9c9c9"/><path d="M596.2,1044.8L599.64,1039.71A6.1,6.1 0 1 1 596.02,1038.66Z" fill="#bd7fc4" stroke="#ececec" stroke-width="0.45" stroke-linejoin="round"/>
<circle cx="609.8" cy="1054.0" r="6.1" fill="#c6c6c6"/><path d="M609.8,1054.0L613.20,1048.94A6.1,6.1 0 0 1 615.20,1051.22Z" fill="#7fb2dc" stroke="#ececec" stroke-width="0.45" stroke-linejoin="round"/>
<circle cx="607.0" cy="1027.6" r="6.1" fill="#c9c9c9"/><path d="M607.0,1027.6L610.11,1022.31A6.1,6.1 0 1 1 608.71,1021.71Z" fill="#bd7fc4" stroke="#ececec" stroke-width="0.45" stroke-linejoin="round"/>
<circle cx="621.2" cy="1035.8" r="6.1" fill="#c6c6c6"/><path d="M621.2,1035.8L624.28,1030.56A6.1,6.1 0 0 1 627.28,1035.22Z" fill="#7fb2dc" stroke="#ececec" stroke-width="0.45" stroke-linejoin="round"/>
<circle cx="616.6" cy="1009.7" r="6.1" fill="#c9c9c9"/><path d="M616.6,1009.7L619.33,1004.21A6.1,6.1 0 1 1 616.75,1003.58Z" fill="#bd7fc4" stroke="#ececec" stroke-width="0.45" stroke-linejoin="round"/>
<circle cx="631.4" cy="1016.9" r="6.1" fill="#c6c6c6"/><path d="M631.4,1016.9L634.05,1011.45A6.1,6.1 0 0 1 637.40,1017.79Z" fill="#7fb2dc" stroke="#ececec" stroke-width="0.45" stroke-linejoin="round"/>
<circle cx="625.0" cy="991.2" r="6.1" fill="#c9c9c9"/><path d="M625.0,991.2L627.26,985.50A6.1,6.1 0 1 1 623.50,985.23Z" fill="#bd7fc4" stroke="#ececec" stroke-width="0.45" stroke-linejoin="round"/>
<circle cx="640.1" cy="997.3" r="6.1" fill="#c6c6c6"/><path d="M640.1,997.3L642.45,991.69A6.1,6.1 0 0 1 643.37,1002.52Z" fill="#7fb2dc" stroke="#ececec" stroke-width="0.45" stroke-linejoin="round"/>
<circle cx="632.0" cy="972.1" r="6.1" fill="#c9c9c9"/><path d="M632.0,972.1L633.85,966.29A6.1,6.1 0 1 1 632.35,966.00Z" fill="#bd7fc4" stroke="#ececec" stroke-width="0.45" stroke-linejoin="round"/>
<circle cx="647.5" cy="977.2" r="6.1" fill="#c6c6c6"/><path d="M647.5,977.2L649.44,971.40A6.1,6.1 0 0 1 653.34,979.09Z" fill="#7fb2dc" stroke="#ececec" stroke-width="0.45" stroke-linejoin="round"/>
<path d="M351.5,710.8L351.2,703.0M339.4,711.7L338.6,703.9M327.7,714.3L326.1,705.7M316.1,717.3L313.8,708.3M304.7,721.1L301.7,711.8M293.2,724.3L289.9,716.1M282.5,729.7L278.4,721.3M271.9,735.3L267.2,727.3M261.4,741.0L256.6,734.0M251.7,748.1L246.4,741.5M242.5,755.9L236.8,749.6M233.9,764.3L227.8,758.4M220.0,768.4L219.4,767.8M212.4,778.3L211.7,777.8M205.4,788.8L204.7,788.3M199.2,799.7L198.5,799.3M193.8,811.0L193.1,810.7M185.4,821.3L188.5,822.4M181.6,833.6L184.7,834.4M188.4,848.1L181.7,846.7M186.4,860.0L179.7,859.1M185.3,872.1L178.5,871.7M176.0,884.3L178.2,884.3M176.6,897.1L178.8,896.9M178.1,909.8L180.3,909.4M180.5,922.3L182.6,921.8M183.7,934.6L185.8,934.0M188.3,946.5L189.9,945.9M193.3,958.3L194.8,957.6M199.9,969.1L200.5,968.8M208.5,978.6L207.0,979.6M215.6,988.9L214.2,990.0M221.6,1000.2L222.1,999.8M240.5,999.2L230.7,1009.0M237.8,1020.0L239.9,1017.6M247.8,1028.1L249.7,1025.5M258.3,1035.4L260.1,1032.7M270.1,1040.7L270.9,1039.2M281.4,1046.4L282.1,1044.9M292.5,1053.2L293.8,1049.8M304.6,1057.4L305.7,1053.9M320.6,1045.1L317.9,1057.1M332.1,1047.3L330.3,1059.4M343.9,1048.1L342.8,1060.9M355.6,1048.2L355.4,1061.5M367.2,1046.9L368.0,1061.2M380.6,1060.7L380.6,1060.0M393.1,1058.6L393.0,1058.0M401.4,1041.2L405.3,1055.0M412.5,1037.8L417.3,1051.2M421.9,1030.3L429.0,1046.6M431.9,1025.0L440.4,1041.2M441.5,1019.0L451.4,1035.0M450.9,1012.7L461.9,1028.0M459.2,1005.0L471.9,1020.3M466.2,996.1L481.3,1011.9M474.0,988.2L490.1,1002.9M476.8,976.4L498.2,993.3M483.1,967.8L505.7,983.1M488.4,958.5L512.4,972.5M491.2,948.0L518.4,961.3M495.5,938.4L523.6,949.8M461.6,916.3L527.9,938.0" stroke="#d9d9d9" stroke-width="0.7" stroke-dasharray="1.2,1.8" fill="none"/>
<path d="M473.4,886.3L553.4,889.1M504.7,897.8L552.4,902.8M492.4,906.2L550.5,916.5" stroke="#d9d9d9" stroke-width="0.7" stroke-dasharray="1.2,1.8" fill="none"/>
<polygon points="409.6,893.9 534.5,920.5 547.8,936.8" fill="#cfcfcf" stroke="#333" stroke-width="0.55" stroke-linejoin="round"/>
<polygon points="409.6,893.9 489.6,903.1 488.7,910.1" fill="#ffffff" stroke="#333" stroke-width="0.55" stroke-linejoin="round"/>
<polygon points="400.5,889.5 471.6,890.4 502.2,903.1" fill="#cfcfcf" stroke="#333" stroke-width="0.55" stroke-linejoin="round"/>
<polygon points="375.5,883.4 450.1,882.2 471.6,890.6" fill="#cfcfcf" stroke="#333" stroke-width="0.55" stroke-linejoin="round"/>
<path d="M357.5,882.2L375.0,886.4M373.84,889.75L389.82,897.12M384.57,905.32L394.61,913.90M383.66,923.40L397.28,944.84M381.85,952.29L385.04,961.45M360.01,966.06L360.84,993.85M318.24,986.77L314.86,995.76M270.76,966.99L265.97,971.67M240.61,934.37L228.38,939.83M216.31,889.86L208.42,890.28M221.04,821.63L216.83,819.77M242.21,780.25L239.96,778.27M278.97,746.37L276.66,742.39M302.87,730.22L301.89,727.49M316.74,722.93L316.46,721.87M327.12,719.51L327.03,719.02M337.12,717.46L337.05,716.86M345.79,716.01L345.70,714.72M351.60,714.40L351.52,712.31M339.82,715.23L339.60,713.15M328.36,718.17L327.94,715.81M317.05,721.20L316.44,718.78M305.99,724.92L305.21,722.54M287.54,733.43L286.86,731.98M294.87,728.47L293.74,725.69M279.03,735.92L279.08,736.00M284.27,733.34L283.12,731.00M273.99,738.85L272.68,736.61M253.05,759.03L248.26,753.38M262.43,742.60L262.21,742.26M252.86,749.62L252.61,749.31M243.80,757.30L243.53,757.01M235.30,765.60L235.01,765.33M213.08,820.88L202.58,816.43M209.66,801.78L205.53,799.53M213.37,786.51L212.54,785.96M219.66,776.01L219.66,776.01M223.48,771.23L221.17,769.31M216.02,780.92L213.58,779.17M206.14,796.38L205.27,795.89M208.40,790.59L206.69,789.54M202.33,801.29L200.55,800.37M198.86,813.20L195.19,811.60M196.96,831.70L186.65,828.45M188.65,822.48L186.86,821.85M184.87,834.49L183.04,833.99M204.55,865.10L191.73,863.66M192.94,854.95L191.76,854.75M192.82,848.94L189.88,848.35M190.89,860.60L187.92,860.21M190.99,872.43L186.79,872.18M228.39,957.17L214.89,965.00M204.97,944.86L196.74,948.24M190.25,929.47L188.33,930.02M183.74,908.89L182.16,909.13M180.29,890.52L179.20,890.57M179.01,884.29L177.51,884.31M179.60,896.83L178.11,896.95M182.16,909.13L179.59,909.52M185.97,927.44L185.58,927.55M184.09,921.47L181.95,921.96M187.28,933.56L185.17,934.20M195.48,950.43L194.37,950.89M192.06,945.11L189.72,946.00M196.89,956.59L194.62,957.64M205.32,966.14L201.20,968.41M227.46,983.60L225.34,985.26M220.09,978.15L216.72,980.50M213.35,975.49L209.74,977.83M220.27,985.39L216.83,987.97M230.95,992.09L222.72,999.24M257.52,982.18L241.53,998.17M302.69,997.87L293.95,1016.31M279.07,1008.18L264.80,1031.10M252.09,1022.39L249.86,1025.35M240.07,1017.43L238.82,1018.86M249.86,1025.35L248.72,1026.87M260.19,1032.56L259.16,1034.15M278.24,1038.67L277.38,1040.36M271.87,1037.45L270.80,1039.38M282.99,1043.08L282.06,1045.08M309.66,1022.68L299.54,1052.40M293.59,1050.26L292.99,1051.85M305.56,1054.33L305.07,1055.96M367.00,1003.13L367.81,1013.40M356.54,1013.80L356.33,1042.40M345.77,1041.97L345.71,1042.87M335.85,1041.84L335.62,1043.52M327.14,1042.14L326.96,1043.13M321.32,1041.95L320.94,1043.61M332.63,1044.10L332.38,1045.78M344.16,1044.45L343.98,1046.64M355.61,1043.29L355.57,1046.69M366.88,1042.12L367.08,1045.42M379.00,1012.03L386.32,1056.23M380.18,1057.14L380.45,1059.22M392.42,1055.11L392.84,1057.17M402.95,984.23L419.96,1022.42M411.22,1025.99L411.74,1027.40M404.01,1030.06L405.69,1035.40M400.28,1037.00L401.05,1039.79M411.05,1033.61L412.02,1036.34M419.32,1024.34L421.32,1028.92M428.47,1018.31L431.24,1023.63M407.53,949.55L449.03,1005.43M442.41,1010.08L443.79,1012.16M439.17,1015.12L440.74,1017.67M448.30,1009.05L450.05,1011.49M455.40,1000.43L458.27,1003.89M410.58,934.05L466.81,988.97M462.98,992.75L465.19,995.06M470.49,985.06L472.86,987.22M402.28,901.60L410.45,905.14M408.11,909.92L451.69,933.80M447.32,941.08L480.36,962.74M475.94,969.10L476.34,969.40M473.20,973.52L475.64,975.44M479.33,965.17L481.90,966.91M484.43,956.15L487.11,957.71M455.48,926.19L489.14,941.30M486.98,945.90L489.85,947.31M491.14,936.64L494.10,937.85M412.33,900.16L460.14,915.81M392.66,887.81L400.56,889.07M400.13,891.33L409.72,893.38M375.49,882.83A18,18 0 0 1 373.84,889.75M392.66,887.81A35.6,35.6 0 0 1 384.57,905.32M402.28,901.60A48.8,48.8 0 0 1 383.66,923.40M410.58,934.05A74.2,74.2 0 0 1 381.85,952.29M407.53,949.55A83.9,83.9 0 0 1 360.01,966.06M402.95,984.23A111.7,111.7 0 0 1 318.24,986.77M367.00,1003.13A121.3,121.3 0 0 1 270.76,966.99M302.69,997.87A128,128 0 0 1 240.61,934.37M257.52,982.18A141.4,141.4 0 0 1 216.31,889.86M228.39,957.17A149.3,149.3 0 0 1 221.04,821.63M204.55,865.10A153.9,153.9 0 0 1 242.21,780.25M213.08,820.88A156.9,156.9 0 0 1 278.97,746.37M253.05,759.03A161.5,161.5 0 0 1 302.87,730.22M287.54,733.43A164.4,164.4 0 0 1 316.74,722.93M305.99,724.92A165.5,165.5 0 0 1 327.12,719.51M317.05,721.20A166,166 0 0 1 337.12,717.46M328.36,718.17A166.6,166.6 0 0 1 345.79,716.01M339.82,715.23A167.9,167.9 0 0 1 351.60,714.40M279.03,735.92A166,166 0 0 1 294.87,728.47M273.99,738.85A165.9,165.9 0 0 1 284.27,733.34M235.30,765.60A168.9,168.9 0 0 1 262.43,742.60M196.96,831.70A168.3,168.3 0 0 1 209.66,801.78M198.86,813.20A173,173 0 0 1 213.37,786.51M206.14,796.38A174,174 0 0 1 219.66,776.01M216.02,780.92A174,174 0 0 1 223.48,771.23M202.33,801.29A175,175 0 0 1 208.40,790.59M184.87,834.49A179.1,179.1 0 0 1 188.65,822.48M190.99,872.43A166.8,166.8 0 0 1 192.94,854.95M190.89,860.60A168,168 0 0 1 192.82,848.94M227.46,983.60A164.9,164.9 0 0 1 204.97,944.86M205.32,966.14A173.8,173.8 0 0 1 190.25,929.47M195.48,950.43A175.8,175.8 0 0 1 183.74,908.89M185.97,927.44A177.4,177.4 0 0 1 180.29,890.52M179.60,896.83A178.5,178.5 0 0 1 179.01,884.29M187.28,933.56A177.8,177.8 0 0 1 184.09,921.47M196.89,956.59A177,177 0 0 1 192.06,945.11M230.95,992.09A167.6,167.6 0 0 1 220.09,978.15M220.27,985.39A171.7,171.7 0 0 1 213.35,975.49M309.66,1022.68A148.4,148.4 0 0 1 279.07,1008.18M278.24,1038.67A175.4,175.4 0 0 1 252.09,1022.39M260.19,1032.56A179.1,179.1 0 0 1 240.07,1017.43M282.99,1043.08A177.3,177.3 0 0 1 271.87,1037.45M305.56,1054.33A179.8,179.8 0 0 1 293.59,1050.26M379.00,1012.03A131.6,131.6 0 0 1 356.54,1013.80M366.88,1042.12A160.2,160.2 0 0 1 345.77,1041.97M355.61,1043.29A161.1,161.1 0 0 1 335.85,1041.84M344.16,1044.45A162.8,162.8 0 0 1 327.14,1042.14M332.63,1044.10A163.8,163.8 0 0 1 321.32,1041.95M392.42,1055.11A176.4,176.4 0 0 1 380.18,1057.14M428.47,1018.31A153.5,153.5 0 0 1 411.22,1025.99M419.32,1024.34A155,155 0 0 1 404.01,1030.06M411.05,1033.61A160.6,160.6 0 0 1 400.28,1037.00M455.40,1000.43A153.5,153.5 0 0 1 442.41,1010.08M448.30,1009.05A156,156 0 0 1 439.17,1015.12M470.49,985.06A152.8,152.8 0 0 1 462.98,992.75M412.33,900.16A57.7,57.7 0 0 1 408.11,909.92M455.48,926.19A107.4,107.4 0 0 1 447.32,941.08M484.43,956.15A146.9,146.9 0 0 1 475.94,969.10M479.33,965.17A147.4,147.4 0 0 1 473.20,973.52M491.14,936.64A144.3,144.3 0 0 1 486.98,945.90M400.86,886.79A43.6,43.6 0 0 1 400.13,891.33M410.08,891.54A53.4,53.4 0 0 1 409.29,895.21" stroke="#111" stroke-width="0.68" fill="none" stroke-linecap="square"/>
<circle cx="389.8" cy="897.1" r="1.75" fill="#000"/>
<circle cx="394.6" cy="913.9" r="1.75" fill="#000"/>
<circle cx="397.3" cy="944.8" r="1.75" fill="#000"/>
<circle cx="385.0" cy="961.5" r="1.75" fill="#000"/>
<circle cx="360.8" cy="993.8" r="1.75" fill="#000"/>
<circle cx="314.9" cy="995.8" r="1.75" fill="#000"/>
<circle cx="266.0" cy="971.7" r="1.75" fill="#000"/>
<circle cx="228.4" cy="939.8" r="1.75" fill="#000"/>
<circle cx="208.4" cy="890.3" r="1.75" fill="#000"/>
<circle cx="216.8" cy="819.8" r="1.75" fill="#000"/>
<circle cx="240.0" cy="778.3" r="1.75" fill="#000"/>
<circle cx="276.7" cy="742.4" r="1.75" fill="#000"/>
<circle cx="301.9" cy="727.5" r="1.75" fill="#000"/>
<circle cx="316.5" cy="721.9" r="1.75" fill="#000"/>
<circle cx="337.0" cy="716.9" r="1.75" fill="#000"/>
<circle cx="345.7" cy="714.7" r="1.75" fill="#000"/>
<circle cx="286.9" cy="732.0" r="1.75" fill="#000"/>
<circle cx="279.1" cy="736.0" r="1.75" fill="#000"/>
<circle cx="248.3" cy="753.4" r="1.75" fill="#000"/>
<circle cx="202.6" cy="816.4" r="1.75" fill="#000"/>
<circle cx="205.5" cy="799.5" r="1.75" fill="#000"/>
<circle cx="212.5" cy="786.0" r="1.75" fill="#000"/>
<circle cx="219.7" cy="776.0" r="1.75" fill="#000"/>
<circle cx="186.7" cy="828.5" r="1.75" fill="#000"/>
<circle cx="191.7" cy="863.7" r="1.75" fill="#000"/>
<circle cx="191.8" cy="854.8" r="1.75" fill="#000"/>
<circle cx="214.9" cy="965.0" r="1.75" fill="#000"/>
<circle cx="196.7" cy="948.2" r="1.75" fill="#000"/>
<circle cx="188.3" cy="930.0" r="1.75" fill="#000"/>
<circle cx="182.2" cy="909.1" r="1.75" fill="#000"/>
<circle cx="185.6" cy="927.5" r="1.75" fill="#000"/>
<circle cx="225.3" cy="985.3" r="1.75" fill="#000"/>
<circle cx="216.7" cy="980.5" r="1.75" fill="#000"/>
<circle cx="294.0" cy="1016.3" r="1.75" fill="#000"/>
<circle cx="264.8" cy="1031.1" r="1.75" fill="#000"/>
<circle cx="249.9" cy="1025.3" r="1.75" fill="#000"/>
<circle cx="277.4" cy="1040.4" r="1.75" fill="#000"/>
<circle cx="299.5" cy="1052.4" r="1.75" fill="#000"/>
<circle cx="367.8" cy="1013.4" r="1.75" fill="#000"/>
<circle cx="356.3" cy="1042.4" r="1.75" fill="#000"/>
<circle cx="345.7" cy="1042.9" r="1.75" fill="#000"/>
<circle cx="335.6" cy="1043.5" r="1.75" fill="#000"/>
<circle cx="327.0" cy="1043.1" r="1.75" fill="#000"/>
<circle cx="386.3" cy="1056.2" r="1.75" fill="#000"/>
<circle cx="420.0" cy="1022.4" r="1.75" fill="#000"/>
<circle cx="411.7" cy="1027.4" r="1.75" fill="#a9a9a9"/>
<circle cx="405.7" cy="1035.4" r="1.75" fill="#000"/>
<circle cx="449.0" cy="1005.4" r="1.75" fill="#000"/>
<circle cx="443.8" cy="1012.2" r="1.75" fill="#000"/>
<circle cx="466.8" cy="989.0" r="1.75" fill="#000"/>
<circle cx="410.4" cy="905.1" r="1.75" fill="#000"/>
<circle cx="451.7" cy="933.8" r="1.75" fill="#000"/>
<circle cx="480.4" cy="962.7" r="1.75" fill="#000"/>
<circle cx="476.3" cy="969.4" r="1.75" fill="#a9a9a9"/>
<circle cx="489.1" cy="941.3" r="1.75" fill="#000"/>
<circle cx="400.6" cy="889.1" r="1.75" fill="#000"/>
<circle cx="409.7" cy="893.4" r="1.75" fill="#000"/>
<text x="365.6" y="582.3" font-size="12" font-weight="bold" fill="#111">Contamination</text>
<text x="365.6" y="597" font-size="12" font-weight="bold" fill="#111">Completeness</text>
<circle cx="458.1" cy="578.2" r="6.2" fill="#c9c9c9"/>
<circle cx="475.8" cy="578.2" r="6.2" fill="#c9c9c9"/><path d="M475.8,578.2L480.18,573.82A6.2,6.2 0 0 1 471.42,582.58Z" fill="#7fb2dc" stroke="#ececec" stroke-width="0.45" stroke-linejoin="round"/>
<circle cx="493.6" cy="578" r="6.2" fill="#7fb2dc"/>
<circle cx="458.1" cy="593.8" r="6.2" fill="#c9c9c9"/>
<circle cx="475.8" cy="593.8" r="6.2" fill="#c9c9c9"/><path d="M475.8,593.8L480.18,589.42A6.2,6.2 0 0 1 471.42,598.18Z" fill="#bd7fc4" stroke="#ececec" stroke-width="0.45" stroke-linejoin="round"/>
<circle cx="493.6" cy="593.6" r="6.2" fill="#c07cc7"/>
<text transform="translate(508.3,582.4) scale(1,1.1)" font-size="17" fill="#111">10%</text>
<text transform="translate(503.8,598.5) scale(1,1.1)" font-size="17" fill="#111">100%</text>
<text x="365.6" y="702.7" font-size="12" font-weight="bold" fill="#111">Habitats</text>
<text x="367" y="741.2" font-size="12" fill="#111">Class; Order; Family</text>
<line x1="366.8" y1="744.4" x2="477.5" y2="744.4" stroke="#111" stroke-width="0.9"/>
<rect x="367" y="748.3" width="12.6" height="12.6" fill="#5f9c2e" stroke="#8f8f8f" stroke-width="0.6"/>
<text x="384.8" y="758.9" font-size="12" fill="#111"><tspan font-style="italic">Korarchaeia</tspan>;</text>
<rect x="367" y="767.1" width="12.6" height="12.6" fill="#f9d0a2" stroke="#8f8f8f" stroke-width="0.6"/>
<text x="384.8" y="777.7" font-size="12" fill="#111"><tspan font-style="italic">Korarchaeia</tspan>; JAOZGF01; JAOZFZ01</text>
<rect x="367" y="785.9" width="12.6" height="12.6" fill="#a6cdf0" stroke="#8f8f8f" stroke-width="0.6"/>
<text x="384.8" y="796.5" font-size="12" fill="#111"><tspan font-style="italic">Korarchaeia</tspan>; <tspan font-style="italic">Korarchaeales</tspan>; B14-G2</text>
<rect x="367" y="804.8" width="12.6" height="12.6" fill="#92d093" stroke="#8f8f8f" stroke-width="0.6"/>
<text x="384.8" y="815.4" font-size="12" fill="#111"><tspan font-style="italic">Korarchaeia</tspan>; <tspan font-style="italic">Korarchaeales</tspan>; JAOZGB01</text>
<rect x="367" y="823.6" width="12.6" height="12.6" fill="#5a908d" stroke="#8f8f8f" stroke-width="0.6"/>
<text x="384.8" y="834.2" font-size="12" fill="#111"><tspan font-style="italic">Korarchaeia</tspan>; <tspan font-style="italic">Korarchaeales</tspan>; QMVU01</text>
<rect x="367" y="842.4" width="12.6" height="12.6" fill="#d5a3a1" stroke="#8f8f8f" stroke-width="0.6"/>
<text x="384.8" y="853.0" font-size="12" fill="#111"><tspan font-style="italic">Korarchaeia</tspan>; <tspan font-style="italic">Korarchaeales</tspan>; <tspan font-style="italic">Korarchaeaceae</tspan></text>
<text x="262" y="802" font-size="12" font-weight="bold" fill="#111">Bootstrap</text>
<circle cx="266.8" cy="815" r="4.2" fill="#000"/><circle cx="266.8" cy="830.5" r="4.2" fill="#a9a9a9"/>
<text x="274" y="818.7" font-size="10.3" fill="#111">&gt;90%</text>
<text x="274" y="834.2" font-size="10.3" fill="#111">80-90%</text>
<text x="265.8" y="860.2" font-size="12" font-weight="bold" fill="#111">Habitats</text>
<rect x="264.8" y="871.5" width="8.1" height="8.1" fill="#2e839b"/>
<polygon points="268.8,888.8 262.9,898.8 274.7,898.8" fill="#7a9a3c"/>
<text x="277.6" y="879.2" font-size="10.3" fill="#111">Marine</text>
<text x="277.6" y="897.6" font-size="10.3" fill="#111">Terrestrial</text>
<text x="304.9" y="934" font-size="12" font-weight="bold" text-anchor="middle" fill="#111">0.3</text>
<line x1="283.9" y1="943" x2="325.5" y2="943" stroke="#111" stroke-width="1.3"/></g>
</svg>
</body></html>
